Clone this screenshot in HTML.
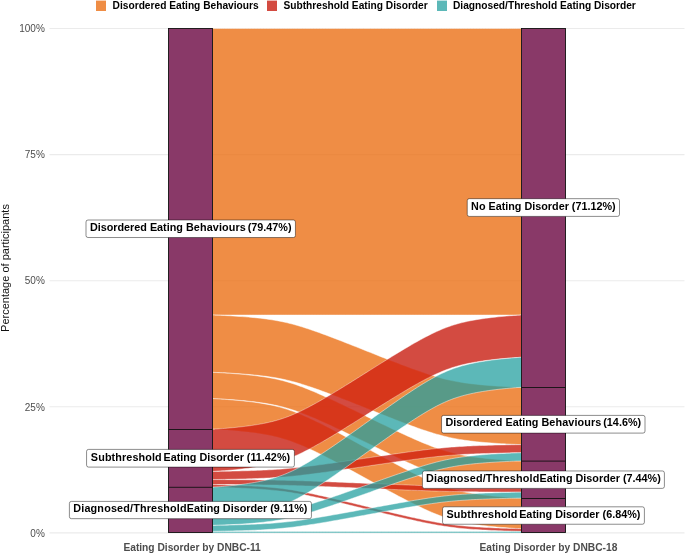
<!DOCTYPE html>
<html><head><meta charset="utf-8"><style>
html,body{margin:0;padding:0;background:#fff;}
body{width:685px;height:554px;position:relative;overflow:hidden;font-family:"Liberation Sans",sans-serif;}
#L{position:absolute;left:0;top:0;width:685px;height:554px;will-change:transform;}
.lab{position:absolute;transform:translate(-50%,-50%);border:0.9px solid transparent;border-radius:2.2px;font-weight:bold;font-size:10.8px;line-height:12px;padding:0.6px 3.1px 3.6px 3.1px;white-space:nowrap;color:#000;}
.tick{position:absolute;right:640.2px;font-size:10px;line-height:12px;color:#4D4D4D;text-align:right;}
.leg{position:absolute;top:1px;width:10.3px;height:9.85px;}
.legb{position:absolute;top:0;width:10.3px;height:1px;}
.legt{position:absolute;top:0.4px;font-size:10.2px;line-height:12px;font-weight:bold;color:#000;white-space:nowrap;}
.xl{position:absolute;top:542.2px;font-size:10.23px;line-height:12px;font-weight:bold;color:#4D4D4D;white-space:nowrap;transform:translateX(-50%);}
.yt{position:absolute;left:5.0px;top:267.7px;font-size:11px;line-height:12px;color:#111;white-space:nowrap;transform:translate(-50%,-50%) rotate(-90deg);}
</style></head><body>
<svg width="685" height="554" viewBox="0 0 685 554" style="position:absolute;left:0;top:0">
<defs><clipPath id="cO"><path d="M212.50,315.03 L212.51,315.03 L212.58,315.04 L212.76,315.04 L213.10,315.05 L213.64,315.07 L214.41,315.10 L215.44,315.14 L216.74,315.19 L218.31,315.25 L220.16,315.33 L222.27,315.43 L224.62,315.54 L227.19,315.68 L229.93,315.83 L232.83,316.00 L235.84,316.18 L238.93,316.39 L242.07,316.61 L245.23,316.85 L248.38,317.11 L251.51,317.38 L254.60,317.68 L257.64,317.99 L260.61,318.32 L263.52,318.66 L266.37,319.03 L269.14,319.42 L271.86,319.83 L274.52,320.26 L277.14,320.72 L279.71,321.20 L282.25,321.71 L284.77,322.26 L287.28,322.83 L289.79,323.44 L292.30,324.09 L294.84,324.78 L297.40,325.50 L299.99,326.27 L302.62,327.08 L305.30,327.92 L308.03,328.81 L310.81,329.74 L313.65,330.72 L316.55,331.73 L319.52,332.79 L322.56,333.89 L325.65,335.04 L328.82,336.22 L332.05,337.44 L335.34,338.70 L338.70,339.99 L342.10,341.31 L345.56,342.66 L349.06,344.04 L352.60,345.44 L356.17,346.85 L359.77,348.28 L363.38,349.72 L367.00,351.16 L370.62,352.60 L374.23,354.04 L377.83,355.47 L381.40,356.88 L384.94,358.28 L388.44,359.66 L391.90,361.01 L395.30,362.33 L398.66,363.62 L401.95,364.88 L405.18,366.10 L408.35,367.28 L411.44,368.43 L414.48,369.53 L417.45,370.58 L420.35,371.60 L423.19,372.57 L425.97,373.51 L428.70,374.39 L431.38,375.24 L434.01,376.05 L436.60,376.82 L439.16,377.54 L441.70,378.23 L444.21,378.88 L446.72,379.49 L449.23,380.06 L451.75,380.61 L454.29,381.12 L456.86,381.60 L459.48,382.06 L462.14,382.49 L464.86,382.90 L467.63,383.29 L470.48,383.66 L473.39,384.00 L476.36,384.33 L479.40,384.64 L482.49,384.93 L485.62,385.21 L488.77,385.47 L491.93,385.71 L495.07,385.93 L498.16,386.14 L501.17,386.32 L504.07,386.49 L506.81,386.64 L509.38,386.77 L511.73,386.89 L513.84,386.99 L515.69,387.07 L517.26,387.13 L518.56,387.18 L519.59,387.22 L520.36,387.25 L520.90,387.27 L521.24,387.28 L521.42,387.28 L521.49,387.28 L521.50,387.28 L521.50,444.61 L521.49,444.61 L521.42,444.61 L521.24,444.60 L520.90,444.59 L520.36,444.57 L519.59,444.55 L518.56,444.51 L517.26,444.46 L515.69,444.39 L513.84,444.31 L511.73,444.21 L509.38,444.10 L506.81,443.97 L504.07,443.82 L501.17,443.65 L498.16,443.46 L495.07,443.26 L491.93,443.03 L488.77,442.79 L485.62,442.54 L482.49,442.26 L479.40,441.97 L476.36,441.66 L473.39,441.33 L470.48,440.98 L467.63,440.62 L464.86,440.23 L462.14,439.82 L459.48,439.39 L456.86,438.93 L454.29,438.44 L451.75,437.93 L449.23,437.39 L446.72,436.81 L444.21,436.20 L441.70,435.55 L439.16,434.87 L436.60,434.14 L434.01,433.38 L431.38,432.57 L428.70,431.72 L425.97,430.83 L423.19,429.90 L420.35,428.93 L417.45,427.91 L414.48,426.85 L411.44,425.75 L408.35,424.61 L405.18,423.43 L401.95,422.21 L398.66,420.95 L395.30,419.66 L391.90,418.33 L388.44,416.98 L384.94,415.61 L381.40,414.21 L377.83,412.79 L374.23,411.36 L370.62,409.93 L367.00,408.48 L363.38,407.04 L359.77,405.60 L356.17,404.18 L352.60,402.76 L349.06,401.36 L345.56,399.99 L342.10,398.63 L338.70,397.31 L335.34,396.02 L332.05,394.76 L328.82,393.54 L325.65,392.36 L322.56,391.22 L319.52,390.12 L316.55,389.06 L313.65,388.04 L310.81,387.07 L308.03,386.14 L305.30,385.25 L302.62,384.40 L299.99,383.59 L297.40,382.83 L294.84,382.10 L292.30,381.42 L289.79,380.77 L287.28,380.16 L284.77,379.58 L282.25,379.04 L279.71,378.52 L277.14,378.04 L274.52,377.58 L271.86,377.15 L269.14,376.74 L266.37,376.35 L263.52,375.99 L260.61,375.64 L257.64,375.31 L254.60,375.00 L251.51,374.71 L248.38,374.43 L245.23,374.18 L242.07,373.94 L238.93,373.71 L235.84,373.51 L232.83,373.32 L229.93,373.15 L227.19,373.00 L224.62,372.87 L222.27,372.76 L220.16,372.66 L218.31,372.58 L216.74,372.51 L215.44,372.46 L214.41,372.42 L213.64,372.40 L213.10,372.38 L212.76,372.37 L212.58,372.36 L212.51,372.36 L212.50,372.36 Z"/><path d="M212.50,372.36 L212.51,372.36 L212.58,372.36 L212.76,372.37 L213.10,372.38 L213.64,372.40 L214.41,372.44 L215.44,372.48 L216.74,372.55 L218.31,372.63 L220.16,372.73 L222.27,372.84 L224.62,372.98 L227.19,373.15 L229.93,373.33 L232.83,373.54 L235.84,373.77 L238.93,374.02 L242.07,374.29 L245.23,374.59 L248.38,374.90 L251.51,375.24 L254.60,375.60 L257.64,375.98 L260.61,376.38 L263.52,376.81 L266.37,377.26 L269.14,377.73 L271.86,378.23 L274.52,378.76 L277.14,379.32 L279.71,379.92 L282.25,380.54 L284.77,381.21 L287.28,381.92 L289.79,382.67 L292.30,383.46 L294.84,384.30 L297.40,385.19 L299.99,386.13 L302.62,387.12 L305.30,388.16 L308.03,389.25 L310.81,390.39 L313.65,391.58 L316.55,392.83 L319.52,394.13 L322.56,395.48 L325.65,396.88 L328.82,398.33 L332.05,399.82 L335.34,401.36 L338.70,402.95 L342.10,404.57 L345.56,406.22 L349.06,407.91 L352.60,409.62 L356.17,411.36 L359.77,413.11 L363.38,414.87 L367.00,416.64 L370.62,418.41 L374.23,420.17 L377.83,421.92 L381.40,423.66 L384.94,425.37 L388.44,427.06 L391.90,428.72 L395.30,430.34 L398.66,431.92 L401.95,433.46 L405.18,434.96 L408.35,436.41 L411.44,437.80 L414.48,439.15 L417.45,440.45 L420.35,441.70 L423.19,442.89 L425.97,444.03 L428.70,445.12 L431.38,446.16 L434.01,447.15 L436.60,448.09 L439.16,448.98 L441.70,449.82 L444.21,450.62 L446.72,451.36 L449.23,452.07 L451.75,452.74 L454.29,453.37 L456.86,453.96 L459.48,454.52 L462.14,455.05 L464.86,455.55 L467.63,456.03 L470.48,456.48 L473.39,456.90 L476.36,457.30 L479.40,457.68 L482.49,458.04 L485.62,458.38 L488.77,458.69 L491.93,458.99 L495.07,459.26 L498.16,459.51 L501.17,459.74 L504.07,459.95 L506.81,460.13 L509.38,460.30 L511.73,460.44 L513.84,460.56 L515.69,460.66 L517.26,460.73 L518.56,460.80 L519.59,460.84 L520.36,460.88 L520.90,460.90 L521.24,460.91 L521.42,460.92 L521.49,460.92 L521.50,460.92 L521.50,487.20 L521.49,487.20 L521.42,487.19 L521.24,487.19 L520.90,487.17 L520.36,487.15 L519.59,487.12 L518.56,487.07 L517.26,487.01 L515.69,486.93 L513.84,486.83 L511.73,486.71 L509.38,486.57 L506.81,486.41 L504.07,486.22 L501.17,486.02 L498.16,485.79 L495.07,485.54 L491.93,485.26 L488.77,484.97 L485.62,484.65 L482.49,484.32 L479.40,483.96 L476.36,483.58 L473.39,483.18 L470.48,482.75 L467.63,482.30 L464.86,481.83 L462.14,481.32 L459.48,480.79 L456.86,480.23 L454.29,479.64 L451.75,479.01 L449.23,478.34 L446.72,477.64 L444.21,476.89 L441.70,476.10 L439.16,475.26 L436.60,474.37 L434.01,473.43 L431.38,472.44 L428.70,471.40 L425.97,470.31 L423.19,469.16 L420.35,467.97 L417.45,466.73 L414.48,465.43 L411.44,464.08 L408.35,462.68 L405.18,461.23 L401.95,459.73 L398.66,458.19 L395.30,456.61 L391.90,454.99 L388.44,453.33 L384.94,451.65 L381.40,449.93 L377.83,448.20 L374.23,446.45 L370.62,444.68 L367.00,442.92 L363.38,441.15 L359.77,439.38 L356.17,437.63 L352.60,435.90 L349.06,434.18 L345.56,432.50 L342.10,430.84 L338.70,429.22 L335.34,427.64 L332.05,426.10 L328.82,424.60 L325.65,423.15 L322.56,421.75 L319.52,420.40 L316.55,419.10 L313.65,417.86 L310.81,416.67 L308.03,415.52 L305.30,414.43 L302.62,413.39 L299.99,412.40 L297.40,411.46 L294.84,410.57 L292.30,409.73 L289.79,408.94 L287.28,408.19 L284.77,407.49 L282.25,406.82 L279.71,406.19 L277.14,405.60 L274.52,405.04 L271.86,404.51 L269.14,404.00 L266.37,403.53 L263.52,403.08 L260.61,402.65 L257.64,402.25 L254.60,401.87 L251.51,401.51 L248.38,401.18 L245.23,400.86 L242.07,400.57 L238.93,400.29 L235.84,400.04 L232.83,399.81 L229.93,399.61 L227.19,399.42 L224.62,399.26 L222.27,399.12 L220.16,399.00 L218.31,398.90 L216.74,398.82 L215.44,398.76 L214.41,398.71 L213.64,398.68 L213.10,398.66 L212.76,398.64 L212.58,398.64 L212.51,398.63 L212.50,398.63 Z"/><path d="M212.50,398.63 L212.51,398.63 L212.58,398.64 L212.76,398.64 L213.10,398.66 L213.64,398.68 L214.41,398.72 L215.44,398.77 L216.74,398.84 L218.31,398.93 L220.16,399.04 L222.27,399.18 L224.62,399.34 L227.19,399.52 L229.93,399.73 L232.83,399.96 L235.84,400.22 L238.93,400.50 L242.07,400.80 L245.23,401.14 L248.38,401.49 L251.51,401.87 L254.60,402.27 L257.64,402.70 L260.61,403.15 L263.52,403.63 L266.37,404.13 L269.14,404.67 L271.86,405.23 L274.52,405.83 L277.14,406.46 L279.71,407.12 L282.25,407.83 L284.77,408.58 L287.28,409.37 L289.79,410.21 L292.30,411.10 L294.84,412.05 L297.40,413.05 L299.99,414.10 L302.62,415.21 L305.30,416.38 L308.03,417.61 L310.81,418.89 L313.65,420.23 L316.55,421.63 L319.52,423.08 L322.56,424.60 L325.65,426.17 L328.82,427.80 L332.05,429.48 L335.34,431.21 L338.70,432.99 L342.10,434.81 L345.56,436.67 L349.06,438.57 L352.60,440.49 L356.17,442.44 L359.77,444.41 L363.38,446.39 L367.00,448.37 L370.62,450.36 L374.23,452.34 L377.83,454.31 L381.40,456.25 L384.94,458.18 L388.44,460.07 L391.90,461.93 L395.30,463.76 L398.66,465.53 L401.95,467.27 L405.18,468.95 L408.35,470.57 L411.44,472.15 L414.48,473.66 L417.45,475.12 L420.35,476.52 L423.19,477.86 L425.97,479.14 L428.70,480.36 L431.38,481.53 L434.01,482.64 L436.60,483.70 L439.16,484.70 L441.70,485.64 L444.21,486.53 L446.72,487.38 L449.23,488.17 L451.75,488.92 L454.29,489.62 L456.86,490.29 L459.48,490.92 L462.14,491.52 L464.86,492.08 L467.63,492.61 L470.48,493.12 L473.39,493.59 L476.36,494.05 L479.40,494.47 L482.49,494.88 L485.62,495.25 L488.77,495.61 L491.93,495.94 L495.07,496.25 L498.16,496.53 L501.17,496.79 L504.07,497.02 L506.81,497.23 L509.38,497.41 L511.73,497.57 L513.84,497.70 L515.69,497.81 L517.26,497.90 L518.56,497.97 L519.59,498.02 L520.36,498.06 L520.90,498.09 L521.24,498.10 L521.42,498.11 L521.49,498.11 L521.50,498.11 L521.50,528.71 L521.49,528.71 L521.42,528.71 L521.24,528.70 L520.90,528.69 L520.36,528.66 L519.59,528.63 L518.56,528.57 L517.26,528.50 L515.69,528.41 L513.84,528.30 L511.73,528.17 L509.38,528.01 L506.81,527.83 L504.07,527.62 L501.17,527.39 L498.16,527.13 L495.07,526.85 L491.93,526.54 L488.77,526.21 L485.62,525.86 L482.49,525.48 L479.40,525.08 L476.36,524.65 L473.39,524.20 L470.48,523.72 L467.63,523.21 L464.86,522.68 L462.14,522.12 L459.48,521.52 L456.86,520.89 L454.29,520.23 L451.75,519.52 L449.23,518.77 L446.72,517.98 L444.21,517.14 L441.70,516.25 L439.16,515.30 L436.60,514.30 L434.01,513.25 L431.38,512.13 L428.70,510.97 L425.97,509.74 L423.19,508.46 L420.35,507.12 L417.45,505.72 L414.48,504.26 L411.44,502.75 L408.35,501.17 L405.18,499.55 L401.95,497.87 L398.66,496.14 L395.30,494.36 L391.90,492.54 L388.44,490.68 L384.94,488.78 L381.40,486.86 L377.83,484.91 L374.23,482.94 L370.62,480.96 L367.00,478.97 L363.38,476.99 L359.77,475.01 L356.17,473.04 L352.60,471.09 L349.06,469.17 L345.56,467.27 L342.10,465.41 L338.70,463.59 L335.34,461.81 L332.05,460.08 L328.82,458.40 L325.65,456.77 L322.56,455.20 L319.52,453.69 L316.55,452.23 L313.65,450.83 L310.81,449.49 L308.03,448.21 L305.30,446.98 L302.62,445.82 L299.99,444.70 L297.40,443.65 L294.84,442.65 L292.30,441.70 L289.79,440.81 L287.28,439.97 L284.77,439.18 L282.25,438.43 L279.71,437.72 L277.14,437.06 L274.52,436.43 L271.86,435.83 L269.14,435.27 L266.37,434.74 L263.52,434.23 L260.61,433.75 L257.64,433.30 L254.60,432.87 L251.51,432.47 L248.38,432.09 L245.23,431.74 L242.07,431.41 L238.93,431.10 L235.84,430.82 L232.83,430.56 L229.93,430.33 L227.19,430.12 L224.62,429.94 L222.27,429.78 L220.16,429.65 L218.31,429.54 L216.74,429.45 L215.44,429.38 L214.41,429.32 L213.64,429.29 L213.10,429.26 L212.76,429.25 L212.58,429.24 L212.51,429.24 L212.50,429.24 Z"/></clipPath></defs>
<line x1="49.5" x2="684.5" y1="532.90" y2="532.90" stroke="#EBEBEB" stroke-width="1.07"/><line x1="49.5" x2="684.5" y1="406.80" y2="406.80" stroke="#EBEBEB" stroke-width="1.07"/><line x1="49.5" x2="684.5" y1="280.70" y2="280.70" stroke="#EBEBEB" stroke-width="1.07"/><line x1="49.5" x2="684.5" y1="154.60" y2="154.60" stroke="#EBEBEB" stroke-width="1.07"/><line x1="49.5" x2="684.5" y1="28.50" y2="28.50" stroke="#EBEBEB" stroke-width="1.07"/>
<path d="M212.50,28.50 L212.51,28.50 L212.58,28.50 L212.76,28.50 L213.10,28.50 L213.64,28.50 L214.41,28.50 L215.44,28.50 L216.74,28.50 L218.31,28.50 L220.16,28.50 L222.27,28.50 L224.62,28.50 L227.19,28.50 L229.93,28.50 L232.83,28.50 L235.84,28.50 L238.93,28.50 L242.07,28.50 L245.23,28.50 L248.38,28.50 L251.51,28.50 L254.60,28.50 L257.64,28.50 L260.61,28.50 L263.52,28.50 L266.37,28.50 L269.14,28.50 L271.86,28.50 L274.52,28.50 L277.14,28.50 L279.71,28.50 L282.25,28.50 L284.77,28.50 L287.28,28.50 L289.79,28.50 L292.30,28.50 L294.84,28.50 L297.40,28.50 L299.99,28.50 L302.62,28.50 L305.30,28.50 L308.03,28.50 L310.81,28.50 L313.65,28.50 L316.55,28.50 L319.52,28.50 L322.56,28.50 L325.65,28.50 L328.82,28.50 L332.05,28.50 L335.34,28.50 L338.70,28.50 L342.10,28.50 L345.56,28.50 L349.06,28.50 L352.60,28.50 L356.17,28.50 L359.77,28.50 L363.38,28.50 L367.00,28.50 L370.62,28.50 L374.23,28.50 L377.83,28.50 L381.40,28.50 L384.94,28.50 L388.44,28.50 L391.90,28.50 L395.30,28.50 L398.66,28.50 L401.95,28.50 L405.18,28.50 L408.35,28.50 L411.44,28.50 L414.48,28.50 L417.45,28.50 L420.35,28.50 L423.19,28.50 L425.97,28.50 L428.70,28.50 L431.38,28.50 L434.01,28.50 L436.60,28.50 L439.16,28.50 L441.70,28.50 L444.21,28.50 L446.72,28.50 L449.23,28.50 L451.75,28.50 L454.29,28.50 L456.86,28.50 L459.48,28.50 L462.14,28.50 L464.86,28.50 L467.63,28.50 L470.48,28.50 L473.39,28.50 L476.36,28.50 L479.40,28.50 L482.49,28.50 L485.62,28.50 L488.77,28.50 L491.93,28.50 L495.07,28.50 L498.16,28.50 L501.17,28.50 L504.07,28.50 L506.81,28.50 L509.38,28.50 L511.73,28.50 L513.84,28.50 L515.69,28.50 L517.26,28.50 L518.56,28.50 L519.59,28.50 L520.36,28.50 L520.90,28.50 L521.24,28.50 L521.42,28.50 L521.49,28.50 L521.50,28.50 L521.50,315.03 L521.49,315.03 L521.42,315.03 L521.24,315.03 L520.90,315.03 L520.36,315.03 L519.59,315.03 L518.56,315.03 L517.26,315.03 L515.69,315.03 L513.84,315.03 L511.73,315.03 L509.38,315.03 L506.81,315.03 L504.07,315.03 L501.17,315.03 L498.16,315.03 L495.07,315.03 L491.93,315.03 L488.77,315.03 L485.62,315.03 L482.49,315.03 L479.40,315.03 L476.36,315.03 L473.39,315.03 L470.48,315.03 L467.63,315.03 L464.86,315.03 L462.14,315.03 L459.48,315.03 L456.86,315.03 L454.29,315.03 L451.75,315.03 L449.23,315.03 L446.72,315.03 L444.21,315.03 L441.70,315.03 L439.16,315.03 L436.60,315.03 L434.01,315.03 L431.38,315.03 L428.70,315.03 L425.97,315.03 L423.19,315.03 L420.35,315.03 L417.45,315.03 L414.48,315.03 L411.44,315.03 L408.35,315.03 L405.18,315.03 L401.95,315.03 L398.66,315.03 L395.30,315.03 L391.90,315.03 L388.44,315.03 L384.94,315.03 L381.40,315.03 L377.83,315.03 L374.23,315.03 L370.62,315.03 L367.00,315.03 L363.38,315.03 L359.77,315.03 L356.17,315.03 L352.60,315.03 L349.06,315.03 L345.56,315.03 L342.10,315.03 L338.70,315.03 L335.34,315.03 L332.05,315.03 L328.82,315.03 L325.65,315.03 L322.56,315.03 L319.52,315.03 L316.55,315.03 L313.65,315.03 L310.81,315.03 L308.03,315.03 L305.30,315.03 L302.62,315.03 L299.99,315.03 L297.40,315.03 L294.84,315.03 L292.30,315.03 L289.79,315.03 L287.28,315.03 L284.77,315.03 L282.25,315.03 L279.71,315.03 L277.14,315.03 L274.52,315.03 L271.86,315.03 L269.14,315.03 L266.37,315.03 L263.52,315.03 L260.61,315.03 L257.64,315.03 L254.60,315.03 L251.51,315.03 L248.38,315.03 L245.23,315.03 L242.07,315.03 L238.93,315.03 L235.84,315.03 L232.83,315.03 L229.93,315.03 L227.19,315.03 L224.62,315.03 L222.27,315.03 L220.16,315.03 L218.31,315.03 L216.74,315.03 L215.44,315.03 L214.41,315.03 L213.64,315.03 L213.10,315.03 L212.76,315.03 L212.58,315.03 L212.51,315.03 L212.50,315.03 Z" fill="#EB7016" fill-opacity="0.8" stroke="#fff" stroke-width="0.45"/><path d="M212.50,315.03 L212.51,315.03 L212.58,315.04 L212.76,315.04 L213.10,315.05 L213.64,315.07 L214.41,315.10 L215.44,315.14 L216.74,315.19 L218.31,315.25 L220.16,315.33 L222.27,315.43 L224.62,315.54 L227.19,315.68 L229.93,315.83 L232.83,316.00 L235.84,316.18 L238.93,316.39 L242.07,316.61 L245.23,316.85 L248.38,317.11 L251.51,317.38 L254.60,317.68 L257.64,317.99 L260.61,318.32 L263.52,318.66 L266.37,319.03 L269.14,319.42 L271.86,319.83 L274.52,320.26 L277.14,320.72 L279.71,321.20 L282.25,321.71 L284.77,322.26 L287.28,322.83 L289.79,323.44 L292.30,324.09 L294.84,324.78 L297.40,325.50 L299.99,326.27 L302.62,327.08 L305.30,327.92 L308.03,328.81 L310.81,329.74 L313.65,330.72 L316.55,331.73 L319.52,332.79 L322.56,333.89 L325.65,335.04 L328.82,336.22 L332.05,337.44 L335.34,338.70 L338.70,339.99 L342.10,341.31 L345.56,342.66 L349.06,344.04 L352.60,345.44 L356.17,346.85 L359.77,348.28 L363.38,349.72 L367.00,351.16 L370.62,352.60 L374.23,354.04 L377.83,355.47 L381.40,356.88 L384.94,358.28 L388.44,359.66 L391.90,361.01 L395.30,362.33 L398.66,363.62 L401.95,364.88 L405.18,366.10 L408.35,367.28 L411.44,368.43 L414.48,369.53 L417.45,370.58 L420.35,371.60 L423.19,372.57 L425.97,373.51 L428.70,374.39 L431.38,375.24 L434.01,376.05 L436.60,376.82 L439.16,377.54 L441.70,378.23 L444.21,378.88 L446.72,379.49 L449.23,380.06 L451.75,380.61 L454.29,381.12 L456.86,381.60 L459.48,382.06 L462.14,382.49 L464.86,382.90 L467.63,383.29 L470.48,383.66 L473.39,384.00 L476.36,384.33 L479.40,384.64 L482.49,384.93 L485.62,385.21 L488.77,385.47 L491.93,385.71 L495.07,385.93 L498.16,386.14 L501.17,386.32 L504.07,386.49 L506.81,386.64 L509.38,386.77 L511.73,386.89 L513.84,386.99 L515.69,387.07 L517.26,387.13 L518.56,387.18 L519.59,387.22 L520.36,387.25 L520.90,387.27 L521.24,387.28 L521.42,387.28 L521.49,387.28 L521.50,387.28 L521.50,444.61 L521.49,444.61 L521.42,444.61 L521.24,444.60 L520.90,444.59 L520.36,444.57 L519.59,444.55 L518.56,444.51 L517.26,444.46 L515.69,444.39 L513.84,444.31 L511.73,444.21 L509.38,444.10 L506.81,443.97 L504.07,443.82 L501.17,443.65 L498.16,443.46 L495.07,443.26 L491.93,443.03 L488.77,442.79 L485.62,442.54 L482.49,442.26 L479.40,441.97 L476.36,441.66 L473.39,441.33 L470.48,440.98 L467.63,440.62 L464.86,440.23 L462.14,439.82 L459.48,439.39 L456.86,438.93 L454.29,438.44 L451.75,437.93 L449.23,437.39 L446.72,436.81 L444.21,436.20 L441.70,435.55 L439.16,434.87 L436.60,434.14 L434.01,433.38 L431.38,432.57 L428.70,431.72 L425.97,430.83 L423.19,429.90 L420.35,428.93 L417.45,427.91 L414.48,426.85 L411.44,425.75 L408.35,424.61 L405.18,423.43 L401.95,422.21 L398.66,420.95 L395.30,419.66 L391.90,418.33 L388.44,416.98 L384.94,415.61 L381.40,414.21 L377.83,412.79 L374.23,411.36 L370.62,409.93 L367.00,408.48 L363.38,407.04 L359.77,405.60 L356.17,404.18 L352.60,402.76 L349.06,401.36 L345.56,399.99 L342.10,398.63 L338.70,397.31 L335.34,396.02 L332.05,394.76 L328.82,393.54 L325.65,392.36 L322.56,391.22 L319.52,390.12 L316.55,389.06 L313.65,388.04 L310.81,387.07 L308.03,386.14 L305.30,385.25 L302.62,384.40 L299.99,383.59 L297.40,382.83 L294.84,382.10 L292.30,381.42 L289.79,380.77 L287.28,380.16 L284.77,379.58 L282.25,379.04 L279.71,378.52 L277.14,378.04 L274.52,377.58 L271.86,377.15 L269.14,376.74 L266.37,376.35 L263.52,375.99 L260.61,375.64 L257.64,375.31 L254.60,375.00 L251.51,374.71 L248.38,374.43 L245.23,374.18 L242.07,373.94 L238.93,373.71 L235.84,373.51 L232.83,373.32 L229.93,373.15 L227.19,373.00 L224.62,372.87 L222.27,372.76 L220.16,372.66 L218.31,372.58 L216.74,372.51 L215.44,372.46 L214.41,372.42 L213.64,372.40 L213.10,372.38 L212.76,372.37 L212.58,372.36 L212.51,372.36 L212.50,372.36 Z" fill="#EB7016" fill-opacity="0.8" stroke="#fff" stroke-width="0.45"/><path d="M212.50,372.36 L212.51,372.36 L212.58,372.36 L212.76,372.37 L213.10,372.38 L213.64,372.40 L214.41,372.44 L215.44,372.48 L216.74,372.55 L218.31,372.63 L220.16,372.73 L222.27,372.84 L224.62,372.98 L227.19,373.15 L229.93,373.33 L232.83,373.54 L235.84,373.77 L238.93,374.02 L242.07,374.29 L245.23,374.59 L248.38,374.90 L251.51,375.24 L254.60,375.60 L257.64,375.98 L260.61,376.38 L263.52,376.81 L266.37,377.26 L269.14,377.73 L271.86,378.23 L274.52,378.76 L277.14,379.32 L279.71,379.92 L282.25,380.54 L284.77,381.21 L287.28,381.92 L289.79,382.67 L292.30,383.46 L294.84,384.30 L297.40,385.19 L299.99,386.13 L302.62,387.12 L305.30,388.16 L308.03,389.25 L310.81,390.39 L313.65,391.58 L316.55,392.83 L319.52,394.13 L322.56,395.48 L325.65,396.88 L328.82,398.33 L332.05,399.82 L335.34,401.36 L338.70,402.95 L342.10,404.57 L345.56,406.22 L349.06,407.91 L352.60,409.62 L356.17,411.36 L359.77,413.11 L363.38,414.87 L367.00,416.64 L370.62,418.41 L374.23,420.17 L377.83,421.92 L381.40,423.66 L384.94,425.37 L388.44,427.06 L391.90,428.72 L395.30,430.34 L398.66,431.92 L401.95,433.46 L405.18,434.96 L408.35,436.41 L411.44,437.80 L414.48,439.15 L417.45,440.45 L420.35,441.70 L423.19,442.89 L425.97,444.03 L428.70,445.12 L431.38,446.16 L434.01,447.15 L436.60,448.09 L439.16,448.98 L441.70,449.82 L444.21,450.62 L446.72,451.36 L449.23,452.07 L451.75,452.74 L454.29,453.37 L456.86,453.96 L459.48,454.52 L462.14,455.05 L464.86,455.55 L467.63,456.03 L470.48,456.48 L473.39,456.90 L476.36,457.30 L479.40,457.68 L482.49,458.04 L485.62,458.38 L488.77,458.69 L491.93,458.99 L495.07,459.26 L498.16,459.51 L501.17,459.74 L504.07,459.95 L506.81,460.13 L509.38,460.30 L511.73,460.44 L513.84,460.56 L515.69,460.66 L517.26,460.73 L518.56,460.80 L519.59,460.84 L520.36,460.88 L520.90,460.90 L521.24,460.91 L521.42,460.92 L521.49,460.92 L521.50,460.92 L521.50,487.20 L521.49,487.20 L521.42,487.19 L521.24,487.19 L520.90,487.17 L520.36,487.15 L519.59,487.12 L518.56,487.07 L517.26,487.01 L515.69,486.93 L513.84,486.83 L511.73,486.71 L509.38,486.57 L506.81,486.41 L504.07,486.22 L501.17,486.02 L498.16,485.79 L495.07,485.54 L491.93,485.26 L488.77,484.97 L485.62,484.65 L482.49,484.32 L479.40,483.96 L476.36,483.58 L473.39,483.18 L470.48,482.75 L467.63,482.30 L464.86,481.83 L462.14,481.32 L459.48,480.79 L456.86,480.23 L454.29,479.64 L451.75,479.01 L449.23,478.34 L446.72,477.64 L444.21,476.89 L441.70,476.10 L439.16,475.26 L436.60,474.37 L434.01,473.43 L431.38,472.44 L428.70,471.40 L425.97,470.31 L423.19,469.16 L420.35,467.97 L417.45,466.73 L414.48,465.43 L411.44,464.08 L408.35,462.68 L405.18,461.23 L401.95,459.73 L398.66,458.19 L395.30,456.61 L391.90,454.99 L388.44,453.33 L384.94,451.65 L381.40,449.93 L377.83,448.20 L374.23,446.45 L370.62,444.68 L367.00,442.92 L363.38,441.15 L359.77,439.38 L356.17,437.63 L352.60,435.90 L349.06,434.18 L345.56,432.50 L342.10,430.84 L338.70,429.22 L335.34,427.64 L332.05,426.10 L328.82,424.60 L325.65,423.15 L322.56,421.75 L319.52,420.40 L316.55,419.10 L313.65,417.86 L310.81,416.67 L308.03,415.52 L305.30,414.43 L302.62,413.39 L299.99,412.40 L297.40,411.46 L294.84,410.57 L292.30,409.73 L289.79,408.94 L287.28,408.19 L284.77,407.49 L282.25,406.82 L279.71,406.19 L277.14,405.60 L274.52,405.04 L271.86,404.51 L269.14,404.00 L266.37,403.53 L263.52,403.08 L260.61,402.65 L257.64,402.25 L254.60,401.87 L251.51,401.51 L248.38,401.18 L245.23,400.86 L242.07,400.57 L238.93,400.29 L235.84,400.04 L232.83,399.81 L229.93,399.61 L227.19,399.42 L224.62,399.26 L222.27,399.12 L220.16,399.00 L218.31,398.90 L216.74,398.82 L215.44,398.76 L214.41,398.71 L213.64,398.68 L213.10,398.66 L212.76,398.64 L212.58,398.64 L212.51,398.63 L212.50,398.63 Z" fill="#EB7016" fill-opacity="0.8" stroke="#fff" stroke-width="0.45"/><path d="M212.50,398.63 L212.51,398.63 L212.58,398.64 L212.76,398.64 L213.10,398.66 L213.64,398.68 L214.41,398.72 L215.44,398.77 L216.74,398.84 L218.31,398.93 L220.16,399.04 L222.27,399.18 L224.62,399.34 L227.19,399.52 L229.93,399.73 L232.83,399.96 L235.84,400.22 L238.93,400.50 L242.07,400.80 L245.23,401.14 L248.38,401.49 L251.51,401.87 L254.60,402.27 L257.64,402.70 L260.61,403.15 L263.52,403.63 L266.37,404.13 L269.14,404.67 L271.86,405.23 L274.52,405.83 L277.14,406.46 L279.71,407.12 L282.25,407.83 L284.77,408.58 L287.28,409.37 L289.79,410.21 L292.30,411.10 L294.84,412.05 L297.40,413.05 L299.99,414.10 L302.62,415.21 L305.30,416.38 L308.03,417.61 L310.81,418.89 L313.65,420.23 L316.55,421.63 L319.52,423.08 L322.56,424.60 L325.65,426.17 L328.82,427.80 L332.05,429.48 L335.34,431.21 L338.70,432.99 L342.10,434.81 L345.56,436.67 L349.06,438.57 L352.60,440.49 L356.17,442.44 L359.77,444.41 L363.38,446.39 L367.00,448.37 L370.62,450.36 L374.23,452.34 L377.83,454.31 L381.40,456.25 L384.94,458.18 L388.44,460.07 L391.90,461.93 L395.30,463.76 L398.66,465.53 L401.95,467.27 L405.18,468.95 L408.35,470.57 L411.44,472.15 L414.48,473.66 L417.45,475.12 L420.35,476.52 L423.19,477.86 L425.97,479.14 L428.70,480.36 L431.38,481.53 L434.01,482.64 L436.60,483.70 L439.16,484.70 L441.70,485.64 L444.21,486.53 L446.72,487.38 L449.23,488.17 L451.75,488.92 L454.29,489.62 L456.86,490.29 L459.48,490.92 L462.14,491.52 L464.86,492.08 L467.63,492.61 L470.48,493.12 L473.39,493.59 L476.36,494.05 L479.40,494.47 L482.49,494.88 L485.62,495.25 L488.77,495.61 L491.93,495.94 L495.07,496.25 L498.16,496.53 L501.17,496.79 L504.07,497.02 L506.81,497.23 L509.38,497.41 L511.73,497.57 L513.84,497.70 L515.69,497.81 L517.26,497.90 L518.56,497.97 L519.59,498.02 L520.36,498.06 L520.90,498.09 L521.24,498.10 L521.42,498.11 L521.49,498.11 L521.50,498.11 L521.50,528.71 L521.49,528.71 L521.42,528.71 L521.24,528.70 L520.90,528.69 L520.36,528.66 L519.59,528.63 L518.56,528.57 L517.26,528.50 L515.69,528.41 L513.84,528.30 L511.73,528.17 L509.38,528.01 L506.81,527.83 L504.07,527.62 L501.17,527.39 L498.16,527.13 L495.07,526.85 L491.93,526.54 L488.77,526.21 L485.62,525.86 L482.49,525.48 L479.40,525.08 L476.36,524.65 L473.39,524.20 L470.48,523.72 L467.63,523.21 L464.86,522.68 L462.14,522.12 L459.48,521.52 L456.86,520.89 L454.29,520.23 L451.75,519.52 L449.23,518.77 L446.72,517.98 L444.21,517.14 L441.70,516.25 L439.16,515.30 L436.60,514.30 L434.01,513.25 L431.38,512.13 L428.70,510.97 L425.97,509.74 L423.19,508.46 L420.35,507.12 L417.45,505.72 L414.48,504.26 L411.44,502.75 L408.35,501.17 L405.18,499.55 L401.95,497.87 L398.66,496.14 L395.30,494.36 L391.90,492.54 L388.44,490.68 L384.94,488.78 L381.40,486.86 L377.83,484.91 L374.23,482.94 L370.62,480.96 L367.00,478.97 L363.38,476.99 L359.77,475.01 L356.17,473.04 L352.60,471.09 L349.06,469.17 L345.56,467.27 L342.10,465.41 L338.70,463.59 L335.34,461.81 L332.05,460.08 L328.82,458.40 L325.65,456.77 L322.56,455.20 L319.52,453.69 L316.55,452.23 L313.65,450.83 L310.81,449.49 L308.03,448.21 L305.30,446.98 L302.62,445.82 L299.99,444.70 L297.40,443.65 L294.84,442.65 L292.30,441.70 L289.79,440.81 L287.28,439.97 L284.77,439.18 L282.25,438.43 L279.71,437.72 L277.14,437.06 L274.52,436.43 L271.86,435.83 L269.14,435.27 L266.37,434.74 L263.52,434.23 L260.61,433.75 L257.64,433.30 L254.60,432.87 L251.51,432.47 L248.38,432.09 L245.23,431.74 L242.07,431.41 L238.93,431.10 L235.84,430.82 L232.83,430.56 L229.93,430.33 L227.19,430.12 L224.62,429.94 L222.27,429.78 L220.16,429.65 L218.31,429.54 L216.74,429.45 L215.44,429.38 L214.41,429.32 L213.64,429.29 L213.10,429.26 L212.76,429.25 L212.58,429.24 L212.51,429.24 L212.50,429.24 Z" fill="#EB7016" fill-opacity="0.8" stroke="#fff" stroke-width="0.45"/><path d="M212.50,429.24 L212.51,429.24 L212.58,429.23 L212.76,429.22 L213.10,429.21 L213.64,429.18 L214.41,429.13 L215.44,429.07 L216.74,428.99 L218.31,428.89 L220.16,428.76 L222.27,428.61 L224.62,428.43 L227.19,428.22 L229.93,427.98 L232.83,427.72 L235.84,427.42 L238.93,427.10 L242.07,426.74 L245.23,426.36 L248.38,425.96 L251.51,425.52 L254.60,425.06 L257.64,424.57 L260.61,424.05 L263.52,423.50 L266.37,422.92 L269.14,422.31 L271.86,421.66 L274.52,420.98 L277.14,420.26 L279.71,419.49 L282.25,418.68 L284.77,417.82 L287.28,416.91 L289.79,415.95 L292.30,414.92 L294.84,413.84 L297.40,412.69 L299.99,411.48 L302.62,410.20 L305.30,408.86 L308.03,407.46 L310.81,405.98 L313.65,404.45 L316.55,402.84 L319.52,401.17 L322.56,399.43 L325.65,397.62 L328.82,395.75 L332.05,393.82 L335.34,391.84 L338.70,389.80 L342.10,387.70 L345.56,385.57 L349.06,383.39 L352.60,381.18 L356.17,378.95 L359.77,376.69 L363.38,374.41 L367.00,372.14 L370.62,369.86 L374.23,367.58 L377.83,365.32 L381.40,363.09 L384.94,360.88 L388.44,358.70 L391.90,356.57 L395.30,354.47 L398.66,352.43 L401.95,350.45 L405.18,348.52 L408.35,346.65 L411.44,344.84 L414.48,343.10 L417.45,341.43 L420.35,339.82 L423.19,338.29 L425.97,336.81 L428.70,335.41 L431.38,334.07 L434.01,332.79 L436.60,331.58 L439.16,330.43 L441.70,329.35 L444.21,328.32 L446.72,327.36 L449.23,326.45 L451.75,325.59 L454.29,324.78 L456.86,324.01 L459.48,323.29 L462.14,322.61 L464.86,321.96 L467.63,321.35 L470.48,320.77 L473.39,320.22 L476.36,319.70 L479.40,319.21 L482.49,318.75 L485.62,318.31 L488.77,317.91 L491.93,317.53 L495.07,317.17 L498.16,316.85 L501.17,316.55 L504.07,316.29 L506.81,316.05 L509.38,315.84 L511.73,315.66 L513.84,315.51 L515.69,315.38 L517.26,315.28 L518.56,315.20 L519.59,315.14 L520.36,315.09 L520.90,315.06 L521.24,315.05 L521.42,315.04 L521.49,315.03 L521.50,315.03 L521.50,357.26 L521.49,357.26 L521.42,357.26 L521.24,357.27 L520.90,357.29 L520.36,357.32 L519.59,357.36 L518.56,357.42 L517.26,357.50 L515.69,357.60 L513.84,357.73 L511.73,357.88 L509.38,358.06 L506.81,358.27 L504.07,358.51 L501.17,358.78 L498.16,359.07 L495.07,359.40 L491.93,359.75 L488.77,360.13 L485.62,360.54 L482.49,360.97 L479.40,361.43 L476.36,361.92 L473.39,362.44 L470.48,362.99 L467.63,363.57 L464.86,364.18 L462.14,364.83 L459.48,365.51 L456.86,366.24 L454.29,367.00 L451.75,367.81 L449.23,368.67 L446.72,369.58 L444.21,370.55 L441.70,371.57 L439.16,372.66 L436.60,373.80 L434.01,375.01 L431.38,376.29 L428.70,377.63 L425.97,379.04 L423.19,380.51 L420.35,382.05 L417.45,383.65 L414.48,385.33 L411.44,387.07 L408.35,388.87 L405.18,390.74 L401.95,392.67 L398.66,394.66 L395.30,396.70 L391.90,398.79 L388.44,400.92 L384.94,403.10 L381.40,405.31 L377.83,407.55 L374.23,409.81 L370.62,412.08 L367.00,414.36 L363.38,416.64 L359.77,418.91 L356.17,421.17 L352.60,423.41 L349.06,425.62 L345.56,427.79 L342.10,429.93 L338.70,432.02 L335.34,434.06 L332.05,436.05 L328.82,437.98 L325.65,439.84 L322.56,441.65 L319.52,443.39 L316.55,445.06 L313.65,446.67 L310.81,448.21 L308.03,449.68 L305.30,451.08 L302.62,452.43 L299.99,453.70 L297.40,454.91 L294.84,456.06 L292.30,457.15 L289.79,458.17 L287.28,459.13 L284.77,460.05 L282.25,460.90 L279.71,461.71 L277.14,462.48 L274.52,463.20 L271.86,463.89 L269.14,464.53 L266.37,465.15 L263.52,465.73 L260.61,466.27 L257.64,466.79 L254.60,467.28 L251.51,467.74 L248.38,468.18 L245.23,468.59 L242.07,468.97 L238.93,469.32 L235.84,469.64 L232.83,469.94 L229.93,470.21 L227.19,470.44 L224.62,470.65 L222.27,470.83 L220.16,470.99 L218.31,471.11 L216.74,471.22 L215.44,471.30 L214.41,471.36 L213.64,471.40 L213.10,471.43 L212.76,471.45 L212.58,471.46 L212.51,471.46 L212.50,471.46 Z" fill="#C81E12" fill-opacity="0.8" stroke="#fff" stroke-width="0.45"/><path d="M212.50,471.46 L212.51,471.46 L212.58,471.46 L212.76,471.46 L213.10,471.45 L213.64,471.45 L214.41,471.44 L215.44,471.42 L216.74,471.40 L218.31,471.38 L220.16,471.35 L222.27,471.31 L224.62,471.27 L227.19,471.22 L229.93,471.16 L232.83,471.10 L235.84,471.03 L238.93,470.96 L242.07,470.87 L245.23,470.78 L248.38,470.69 L251.51,470.59 L254.60,470.48 L257.64,470.36 L260.61,470.24 L263.52,470.11 L266.37,469.97 L269.14,469.83 L271.86,469.68 L274.52,469.52 L277.14,469.35 L279.71,469.17 L282.25,468.98 L284.77,468.78 L287.28,468.56 L289.79,468.33 L292.30,468.09 L294.84,467.84 L297.40,467.57 L299.99,467.28 L302.62,466.98 L305.30,466.67 L308.03,466.34 L310.81,465.99 L313.65,465.63 L316.55,465.25 L319.52,464.86 L322.56,464.45 L325.65,464.03 L328.82,463.59 L332.05,463.13 L335.34,462.67 L338.70,462.19 L342.10,461.69 L345.56,461.19 L349.06,460.68 L352.60,460.16 L356.17,459.64 L359.77,459.10 L363.38,458.57 L367.00,458.03 L370.62,457.50 L374.23,456.96 L377.83,456.43 L381.40,455.91 L384.94,455.39 L388.44,454.88 L391.90,454.37 L395.30,453.88 L398.66,453.40 L401.95,452.94 L405.18,452.48 L408.35,452.04 L411.44,451.62 L414.48,451.21 L417.45,450.82 L420.35,450.44 L423.19,450.08 L425.97,449.73 L428.70,449.40 L431.38,449.08 L434.01,448.78 L436.60,448.50 L439.16,448.23 L441.70,447.97 L444.21,447.73 L446.72,447.51 L449.23,447.29 L451.75,447.09 L454.29,446.90 L456.86,446.72 L459.48,446.55 L462.14,446.39 L464.86,446.24 L467.63,446.09 L470.48,445.96 L473.39,445.83 L476.36,445.71 L479.40,445.59 L482.49,445.48 L485.62,445.38 L488.77,445.29 L491.93,445.20 L495.07,445.11 L498.16,445.04 L501.17,444.97 L504.07,444.90 L506.81,444.85 L509.38,444.80 L511.73,444.76 L513.84,444.72 L515.69,444.69 L517.26,444.67 L518.56,444.65 L519.59,444.63 L520.36,444.62 L520.90,444.62 L521.24,444.61 L521.42,444.61 L521.49,444.61 L521.50,444.61 L521.50,452.72 L521.49,452.72 L521.42,452.72 L521.24,452.72 L520.90,452.72 L520.36,452.73 L519.59,452.74 L518.56,452.75 L517.26,452.77 L515.69,452.80 L513.84,452.83 L511.73,452.86 L509.38,452.91 L506.81,452.95 L504.07,453.01 L501.17,453.07 L498.16,453.14 L495.07,453.22 L491.93,453.30 L488.77,453.39 L485.62,453.49 L482.49,453.59 L479.40,453.70 L476.36,453.81 L473.39,453.93 L470.48,454.06 L467.63,454.20 L464.86,454.34 L462.14,454.50 L459.48,454.66 L456.86,454.83 L454.29,455.01 L451.75,455.20 L449.23,455.40 L446.72,455.61 L444.21,455.84 L441.70,456.08 L439.16,456.34 L436.60,456.61 L434.01,456.89 L431.38,457.19 L428.70,457.51 L425.97,457.84 L423.19,458.18 L420.35,458.54 L417.45,458.92 L414.48,459.31 L411.44,459.72 L408.35,460.15 L405.18,460.59 L401.95,461.04 L398.66,461.51 L395.30,461.99 L391.90,462.48 L388.44,462.98 L384.94,463.49 L381.40,464.01 L377.83,464.54 L374.23,465.07 L370.62,465.60 L367.00,466.14 L363.38,466.68 L359.77,467.21 L356.17,467.74 L352.60,468.27 L349.06,468.79 L345.56,469.30 L342.10,469.80 L338.70,470.29 L335.34,470.77 L332.05,471.24 L328.82,471.69 L325.65,472.13 L322.56,472.56 L319.52,472.97 L316.55,473.36 L313.65,473.74 L310.81,474.10 L308.03,474.44 L305.30,474.77 L302.62,475.09 L299.99,475.39 L297.40,475.67 L294.84,475.94 L292.30,476.20 L289.79,476.44 L287.28,476.67 L284.77,476.88 L282.25,477.08 L279.71,477.27 L277.14,477.45 L274.52,477.62 L271.86,477.78 L269.14,477.94 L266.37,478.08 L263.52,478.22 L260.61,478.35 L257.64,478.47 L254.60,478.58 L251.51,478.69 L248.38,478.79 L245.23,478.89 L242.07,478.98 L238.93,479.06 L235.84,479.14 L232.83,479.21 L229.93,479.27 L227.19,479.33 L224.62,479.38 L222.27,479.42 L220.16,479.45 L218.31,479.48 L216.74,479.51 L215.44,479.53 L214.41,479.54 L213.64,479.55 L213.10,479.56 L212.76,479.56 L212.58,479.56 L212.51,479.56 L212.50,479.56 Z" fill="#C81E12" fill-opacity="0.8" stroke="#fff" stroke-width="0.45"/><path d="M212.50,479.56 L212.51,479.56 L212.58,479.56 L212.76,479.57 L213.10,479.57 L213.64,479.57 L214.41,479.57 L215.44,479.58 L216.74,479.58 L218.31,479.59 L220.16,479.60 L222.27,479.61 L224.62,479.62 L227.19,479.63 L229.93,479.65 L232.83,479.67 L235.84,479.69 L238.93,479.71 L242.07,479.73 L245.23,479.76 L248.38,479.78 L251.51,479.81 L254.60,479.84 L257.64,479.88 L260.61,479.91 L263.52,479.95 L266.37,479.99 L269.14,480.03 L271.86,480.07 L274.52,480.12 L277.14,480.16 L279.71,480.22 L282.25,480.27 L284.77,480.33 L287.28,480.39 L289.79,480.45 L292.30,480.52 L294.84,480.59 L297.40,480.67 L299.99,480.75 L302.62,480.84 L305.30,480.93 L308.03,481.02 L310.81,481.12 L313.65,481.22 L316.55,481.33 L319.52,481.44 L322.56,481.56 L325.65,481.68 L328.82,481.80 L332.05,481.93 L335.34,482.06 L338.70,482.20 L342.10,482.34 L345.56,482.48 L349.06,482.63 L352.60,482.78 L356.17,482.93 L359.77,483.08 L363.38,483.23 L367.00,483.38 L370.62,483.53 L374.23,483.68 L377.83,483.84 L381.40,483.99 L384.94,484.13 L388.44,484.28 L391.90,484.42 L395.30,484.56 L398.66,484.70 L401.95,484.83 L405.18,484.96 L408.35,485.08 L411.44,485.20 L414.48,485.32 L417.45,485.43 L420.35,485.54 L423.19,485.64 L425.97,485.74 L428.70,485.83 L431.38,485.92 L434.01,486.01 L436.60,486.09 L439.16,486.17 L441.70,486.24 L444.21,486.31 L446.72,486.37 L449.23,486.43 L451.75,486.49 L454.29,486.55 L456.86,486.60 L459.48,486.64 L462.14,486.69 L464.86,486.73 L467.63,486.77 L470.48,486.81 L473.39,486.85 L476.36,486.88 L479.40,486.92 L482.49,486.95 L485.62,486.98 L488.77,487.00 L491.93,487.03 L495.07,487.05 L498.16,487.07 L501.17,487.09 L504.07,487.11 L506.81,487.13 L509.38,487.14 L511.73,487.15 L513.84,487.16 L515.69,487.17 L517.26,487.18 L518.56,487.19 L519.59,487.19 L520.36,487.19 L520.90,487.19 L521.24,487.20 L521.42,487.20 L521.49,487.20 L521.50,487.20 L521.50,492.15 L521.49,492.15 L521.42,492.15 L521.24,492.15 L520.90,492.15 L520.36,492.15 L519.59,492.15 L518.56,492.14 L517.26,492.14 L515.69,492.13 L513.84,492.12 L511.73,492.11 L509.38,492.10 L506.81,492.09 L504.07,492.07 L501.17,492.05 L498.16,492.03 L495.07,492.01 L491.93,491.99 L488.77,491.96 L485.62,491.94 L482.49,491.91 L479.40,491.88 L476.36,491.84 L473.39,491.81 L470.48,491.77 L467.63,491.73 L464.86,491.69 L462.14,491.65 L459.48,491.60 L456.86,491.55 L454.29,491.50 L451.75,491.45 L449.23,491.39 L446.72,491.33 L444.21,491.27 L441.70,491.20 L439.16,491.13 L436.60,491.05 L434.01,490.97 L431.38,490.88 L428.70,490.79 L425.97,490.70 L423.19,490.60 L420.35,490.50 L417.45,490.39 L414.48,490.28 L411.44,490.16 L408.35,490.04 L405.18,489.92 L401.95,489.79 L398.66,489.66 L395.30,489.52 L391.90,489.38 L388.44,489.24 L384.94,489.09 L381.40,488.94 L377.83,488.79 L374.23,488.64 L370.62,488.49 L367.00,488.34 L363.38,488.19 L359.77,488.03 L356.17,487.88 L352.60,487.73 L349.06,487.59 L345.56,487.44 L342.10,487.30 L338.70,487.16 L335.34,487.02 L332.05,486.89 L328.82,486.76 L325.65,486.64 L322.56,486.52 L319.52,486.40 L316.55,486.29 L313.65,486.18 L310.81,486.08 L308.03,485.98 L305.30,485.88 L302.62,485.79 L299.99,485.71 L297.40,485.63 L294.84,485.55 L292.30,485.48 L289.79,485.41 L287.28,485.35 L284.77,485.29 L282.25,485.23 L279.71,485.17 L277.14,485.12 L274.52,485.07 L271.86,485.03 L269.14,484.99 L266.37,484.94 L263.52,484.91 L260.61,484.87 L257.64,484.83 L254.60,484.80 L251.51,484.77 L248.38,484.74 L245.23,484.71 L242.07,484.69 L238.93,484.67 L235.84,484.64 L232.83,484.62 L229.93,484.61 L227.19,484.59 L224.62,484.58 L222.27,484.56 L220.16,484.55 L218.31,484.55 L216.74,484.54 L215.44,484.53 L214.41,484.53 L213.64,484.53 L213.10,484.52 L212.76,484.52 L212.58,484.52 L212.51,484.52 L212.50,484.52 Z" fill="#C81E12" fill-opacity="0.8" stroke="#fff" stroke-width="0.45"/><path d="M212.50,484.52 L212.51,484.52 L212.58,484.52 L212.76,484.53 L213.10,484.53 L213.64,484.55 L214.41,484.56 L215.44,484.59 L216.74,484.62 L218.31,484.66 L220.16,484.71 L222.27,484.76 L224.62,484.83 L227.19,484.92 L229.93,485.01 L232.83,485.11 L235.84,485.23 L238.93,485.35 L242.07,485.49 L245.23,485.63 L248.38,485.79 L251.51,485.96 L254.60,486.14 L257.64,486.33 L260.61,486.53 L263.52,486.74 L266.37,486.97 L269.14,487.20 L271.86,487.45 L274.52,487.72 L277.14,488.00 L279.71,488.29 L282.25,488.61 L284.77,488.94 L287.28,489.29 L289.79,489.67 L292.30,490.06 L294.84,490.48 L297.40,490.93 L299.99,491.39 L302.62,491.89 L305.30,492.41 L308.03,492.95 L310.81,493.52 L313.65,494.12 L316.55,494.74 L319.52,495.38 L322.56,496.06 L325.65,496.76 L328.82,497.48 L332.05,498.23 L335.34,498.99 L338.70,499.78 L342.10,500.59 L345.56,501.42 L349.06,502.26 L352.60,503.12 L356.17,503.98 L359.77,504.86 L363.38,505.74 L367.00,506.62 L370.62,507.50 L374.23,508.38 L377.83,509.25 L381.40,510.12 L384.94,510.97 L388.44,511.82 L391.90,512.64 L395.30,513.45 L398.66,514.24 L401.95,515.01 L405.18,515.76 L408.35,516.48 L411.44,517.18 L414.48,517.85 L417.45,518.50 L420.35,519.12 L423.19,519.72 L425.97,520.29 L428.70,520.83 L431.38,521.35 L434.01,521.84 L436.60,522.31 L439.16,522.76 L441.70,523.17 L444.21,523.57 L446.72,523.94 L449.23,524.30 L451.75,524.63 L454.29,524.94 L456.86,525.24 L459.48,525.52 L462.14,525.78 L464.86,526.03 L467.63,526.27 L470.48,526.49 L473.39,526.71 L476.36,526.91 L479.40,527.10 L482.49,527.28 L485.62,527.44 L488.77,527.60 L491.93,527.75 L495.07,527.89 L498.16,528.01 L501.17,528.13 L504.07,528.23 L506.81,528.32 L509.38,528.40 L511.73,528.47 L513.84,528.53 L515.69,528.58 L517.26,528.62 L518.56,528.65 L519.59,528.67 L520.36,528.69 L520.90,528.70 L521.24,528.71 L521.42,528.71 L521.49,528.71 L521.50,528.71 L521.50,531.39 L521.49,531.39 L521.42,531.39 L521.24,531.38 L520.90,531.38 L520.36,531.36 L519.59,531.35 L518.56,531.32 L517.26,531.29 L515.69,531.25 L513.84,531.20 L511.73,531.14 L509.38,531.07 L506.81,530.99 L504.07,530.90 L501.17,530.80 L498.16,530.68 L495.07,530.56 L491.93,530.42 L488.77,530.28 L485.62,530.12 L482.49,529.95 L479.40,529.77 L476.36,529.58 L473.39,529.38 L470.48,529.17 L467.63,528.94 L464.86,528.71 L462.14,528.46 L459.48,528.19 L456.86,527.91 L454.29,527.62 L451.75,527.30 L449.23,526.97 L446.72,526.62 L444.21,526.24 L441.70,525.85 L439.16,525.43 L436.60,524.98 L434.01,524.52 L431.38,524.02 L428.70,523.50 L425.97,522.96 L423.19,522.39 L420.35,521.79 L417.45,521.17 L414.48,520.53 L411.44,519.85 L408.35,519.15 L405.18,518.43 L401.95,517.68 L398.66,516.92 L395.30,516.13 L391.90,515.32 L388.44,514.49 L384.94,513.65 L381.40,512.79 L377.83,511.93 L374.23,511.05 L370.62,510.17 L367.00,509.29 L363.38,508.41 L359.77,507.53 L356.17,506.66 L352.60,505.79 L349.06,504.94 L345.56,504.09 L342.10,503.27 L338.70,502.46 L335.34,501.67 L332.05,500.90 L328.82,500.15 L325.65,499.43 L322.56,498.73 L319.52,498.06 L316.55,497.41 L313.65,496.79 L310.81,496.19 L308.03,495.62 L305.30,495.08 L302.62,494.56 L299.99,494.07 L297.40,493.60 L294.84,493.15 L292.30,492.73 L289.79,492.34 L287.28,491.97 L284.77,491.61 L282.25,491.28 L279.71,490.97 L277.14,490.67 L274.52,490.39 L271.86,490.13 L269.14,489.88 L266.37,489.64 L263.52,489.42 L260.61,489.20 L257.64,489.00 L254.60,488.81 L251.51,488.63 L248.38,488.47 L245.23,488.31 L242.07,488.16 L238.93,488.02 L235.84,487.90 L232.83,487.78 L229.93,487.68 L227.19,487.59 L224.62,487.51 L222.27,487.44 L220.16,487.38 L218.31,487.33 L216.74,487.29 L215.44,487.26 L214.41,487.24 L213.64,487.22 L213.10,487.21 L212.76,487.20 L212.58,487.20 L212.51,487.20 L212.50,487.20 Z" fill="#C81E12" fill-opacity="0.8" stroke="#fff" stroke-width="0.45"/><g clip-path="url(#cO)"><path d="M212.50,429.24 L212.51,429.24 L212.58,429.23 L212.76,429.22 L213.10,429.21 L213.64,429.18 L214.41,429.13 L215.44,429.07 L216.74,428.99 L218.31,428.89 L220.16,428.76 L222.27,428.61 L224.62,428.43 L227.19,428.22 L229.93,427.98 L232.83,427.72 L235.84,427.42 L238.93,427.10 L242.07,426.74 L245.23,426.36 L248.38,425.96 L251.51,425.52 L254.60,425.06 L257.64,424.57 L260.61,424.05 L263.52,423.50 L266.37,422.92 L269.14,422.31 L271.86,421.66 L274.52,420.98 L277.14,420.26 L279.71,419.49 L282.25,418.68 L284.77,417.82 L287.28,416.91 L289.79,415.95 L292.30,414.92 L294.84,413.84 L297.40,412.69 L299.99,411.48 L302.62,410.20 L305.30,408.86 L308.03,407.46 L310.81,405.98 L313.65,404.45 L316.55,402.84 L319.52,401.17 L322.56,399.43 L325.65,397.62 L328.82,395.75 L332.05,393.82 L335.34,391.84 L338.70,389.80 L342.10,387.70 L345.56,385.57 L349.06,383.39 L352.60,381.18 L356.17,378.95 L359.77,376.69 L363.38,374.41 L367.00,372.14 L370.62,369.86 L374.23,367.58 L377.83,365.32 L381.40,363.09 L384.94,360.88 L388.44,358.70 L391.90,356.57 L395.30,354.47 L398.66,352.43 L401.95,350.45 L405.18,348.52 L408.35,346.65 L411.44,344.84 L414.48,343.10 L417.45,341.43 L420.35,339.82 L423.19,338.29 L425.97,336.81 L428.70,335.41 L431.38,334.07 L434.01,332.79 L436.60,331.58 L439.16,330.43 L441.70,329.35 L444.21,328.32 L446.72,327.36 L449.23,326.45 L451.75,325.59 L454.29,324.78 L456.86,324.01 L459.48,323.29 L462.14,322.61 L464.86,321.96 L467.63,321.35 L470.48,320.77 L473.39,320.22 L476.36,319.70 L479.40,319.21 L482.49,318.75 L485.62,318.31 L488.77,317.91 L491.93,317.53 L495.07,317.17 L498.16,316.85 L501.17,316.55 L504.07,316.29 L506.81,316.05 L509.38,315.84 L511.73,315.66 L513.84,315.51 L515.69,315.38 L517.26,315.28 L518.56,315.20 L519.59,315.14 L520.36,315.09 L520.90,315.06 L521.24,315.05 L521.42,315.04 L521.49,315.03 L521.50,315.03 L521.50,357.26 L521.49,357.26 L521.42,357.26 L521.24,357.27 L520.90,357.29 L520.36,357.32 L519.59,357.36 L518.56,357.42 L517.26,357.50 L515.69,357.60 L513.84,357.73 L511.73,357.88 L509.38,358.06 L506.81,358.27 L504.07,358.51 L501.17,358.78 L498.16,359.07 L495.07,359.40 L491.93,359.75 L488.77,360.13 L485.62,360.54 L482.49,360.97 L479.40,361.43 L476.36,361.92 L473.39,362.44 L470.48,362.99 L467.63,363.57 L464.86,364.18 L462.14,364.83 L459.48,365.51 L456.86,366.24 L454.29,367.00 L451.75,367.81 L449.23,368.67 L446.72,369.58 L444.21,370.55 L441.70,371.57 L439.16,372.66 L436.60,373.80 L434.01,375.01 L431.38,376.29 L428.70,377.63 L425.97,379.04 L423.19,380.51 L420.35,382.05 L417.45,383.65 L414.48,385.33 L411.44,387.07 L408.35,388.87 L405.18,390.74 L401.95,392.67 L398.66,394.66 L395.30,396.70 L391.90,398.79 L388.44,400.92 L384.94,403.10 L381.40,405.31 L377.83,407.55 L374.23,409.81 L370.62,412.08 L367.00,414.36 L363.38,416.64 L359.77,418.91 L356.17,421.17 L352.60,423.41 L349.06,425.62 L345.56,427.79 L342.10,429.93 L338.70,432.02 L335.34,434.06 L332.05,436.05 L328.82,437.98 L325.65,439.84 L322.56,441.65 L319.52,443.39 L316.55,445.06 L313.65,446.67 L310.81,448.21 L308.03,449.68 L305.30,451.08 L302.62,452.43 L299.99,453.70 L297.40,454.91 L294.84,456.06 L292.30,457.15 L289.79,458.17 L287.28,459.13 L284.77,460.05 L282.25,460.90 L279.71,461.71 L277.14,462.48 L274.52,463.20 L271.86,463.89 L269.14,464.53 L266.37,465.15 L263.52,465.73 L260.61,466.27 L257.64,466.79 L254.60,467.28 L251.51,467.74 L248.38,468.18 L245.23,468.59 L242.07,468.97 L238.93,469.32 L235.84,469.64 L232.83,469.94 L229.93,470.21 L227.19,470.44 L224.62,470.65 L222.27,470.83 L220.16,470.99 L218.31,471.11 L216.74,471.22 L215.44,471.30 L214.41,471.36 L213.64,471.40 L213.10,471.43 L212.76,471.45 L212.58,471.46 L212.51,471.46 L212.50,471.46 Z" fill="#E83E1A" fill-opacity="0.3"/><path d="M212.50,471.46 L212.51,471.46 L212.58,471.46 L212.76,471.46 L213.10,471.45 L213.64,471.45 L214.41,471.44 L215.44,471.42 L216.74,471.40 L218.31,471.38 L220.16,471.35 L222.27,471.31 L224.62,471.27 L227.19,471.22 L229.93,471.16 L232.83,471.10 L235.84,471.03 L238.93,470.96 L242.07,470.87 L245.23,470.78 L248.38,470.69 L251.51,470.59 L254.60,470.48 L257.64,470.36 L260.61,470.24 L263.52,470.11 L266.37,469.97 L269.14,469.83 L271.86,469.68 L274.52,469.52 L277.14,469.35 L279.71,469.17 L282.25,468.98 L284.77,468.78 L287.28,468.56 L289.79,468.33 L292.30,468.09 L294.84,467.84 L297.40,467.57 L299.99,467.28 L302.62,466.98 L305.30,466.67 L308.03,466.34 L310.81,465.99 L313.65,465.63 L316.55,465.25 L319.52,464.86 L322.56,464.45 L325.65,464.03 L328.82,463.59 L332.05,463.13 L335.34,462.67 L338.70,462.19 L342.10,461.69 L345.56,461.19 L349.06,460.68 L352.60,460.16 L356.17,459.64 L359.77,459.10 L363.38,458.57 L367.00,458.03 L370.62,457.50 L374.23,456.96 L377.83,456.43 L381.40,455.91 L384.94,455.39 L388.44,454.88 L391.90,454.37 L395.30,453.88 L398.66,453.40 L401.95,452.94 L405.18,452.48 L408.35,452.04 L411.44,451.62 L414.48,451.21 L417.45,450.82 L420.35,450.44 L423.19,450.08 L425.97,449.73 L428.70,449.40 L431.38,449.08 L434.01,448.78 L436.60,448.50 L439.16,448.23 L441.70,447.97 L444.21,447.73 L446.72,447.51 L449.23,447.29 L451.75,447.09 L454.29,446.90 L456.86,446.72 L459.48,446.55 L462.14,446.39 L464.86,446.24 L467.63,446.09 L470.48,445.96 L473.39,445.83 L476.36,445.71 L479.40,445.59 L482.49,445.48 L485.62,445.38 L488.77,445.29 L491.93,445.20 L495.07,445.11 L498.16,445.04 L501.17,444.97 L504.07,444.90 L506.81,444.85 L509.38,444.80 L511.73,444.76 L513.84,444.72 L515.69,444.69 L517.26,444.67 L518.56,444.65 L519.59,444.63 L520.36,444.62 L520.90,444.62 L521.24,444.61 L521.42,444.61 L521.49,444.61 L521.50,444.61 L521.50,452.72 L521.49,452.72 L521.42,452.72 L521.24,452.72 L520.90,452.72 L520.36,452.73 L519.59,452.74 L518.56,452.75 L517.26,452.77 L515.69,452.80 L513.84,452.83 L511.73,452.86 L509.38,452.91 L506.81,452.95 L504.07,453.01 L501.17,453.07 L498.16,453.14 L495.07,453.22 L491.93,453.30 L488.77,453.39 L485.62,453.49 L482.49,453.59 L479.40,453.70 L476.36,453.81 L473.39,453.93 L470.48,454.06 L467.63,454.20 L464.86,454.34 L462.14,454.50 L459.48,454.66 L456.86,454.83 L454.29,455.01 L451.75,455.20 L449.23,455.40 L446.72,455.61 L444.21,455.84 L441.70,456.08 L439.16,456.34 L436.60,456.61 L434.01,456.89 L431.38,457.19 L428.70,457.51 L425.97,457.84 L423.19,458.18 L420.35,458.54 L417.45,458.92 L414.48,459.31 L411.44,459.72 L408.35,460.15 L405.18,460.59 L401.95,461.04 L398.66,461.51 L395.30,461.99 L391.90,462.48 L388.44,462.98 L384.94,463.49 L381.40,464.01 L377.83,464.54 L374.23,465.07 L370.62,465.60 L367.00,466.14 L363.38,466.68 L359.77,467.21 L356.17,467.74 L352.60,468.27 L349.06,468.79 L345.56,469.30 L342.10,469.80 L338.70,470.29 L335.34,470.77 L332.05,471.24 L328.82,471.69 L325.65,472.13 L322.56,472.56 L319.52,472.97 L316.55,473.36 L313.65,473.74 L310.81,474.10 L308.03,474.44 L305.30,474.77 L302.62,475.09 L299.99,475.39 L297.40,475.67 L294.84,475.94 L292.30,476.20 L289.79,476.44 L287.28,476.67 L284.77,476.88 L282.25,477.08 L279.71,477.27 L277.14,477.45 L274.52,477.62 L271.86,477.78 L269.14,477.94 L266.37,478.08 L263.52,478.22 L260.61,478.35 L257.64,478.47 L254.60,478.58 L251.51,478.69 L248.38,478.79 L245.23,478.89 L242.07,478.98 L238.93,479.06 L235.84,479.14 L232.83,479.21 L229.93,479.27 L227.19,479.33 L224.62,479.38 L222.27,479.42 L220.16,479.45 L218.31,479.48 L216.74,479.51 L215.44,479.53 L214.41,479.54 L213.64,479.55 L213.10,479.56 L212.76,479.56 L212.58,479.56 L212.51,479.56 L212.50,479.56 Z" fill="#E83E1A" fill-opacity="0.3"/><path d="M212.50,479.56 L212.51,479.56 L212.58,479.56 L212.76,479.57 L213.10,479.57 L213.64,479.57 L214.41,479.57 L215.44,479.58 L216.74,479.58 L218.31,479.59 L220.16,479.60 L222.27,479.61 L224.62,479.62 L227.19,479.63 L229.93,479.65 L232.83,479.67 L235.84,479.69 L238.93,479.71 L242.07,479.73 L245.23,479.76 L248.38,479.78 L251.51,479.81 L254.60,479.84 L257.64,479.88 L260.61,479.91 L263.52,479.95 L266.37,479.99 L269.14,480.03 L271.86,480.07 L274.52,480.12 L277.14,480.16 L279.71,480.22 L282.25,480.27 L284.77,480.33 L287.28,480.39 L289.79,480.45 L292.30,480.52 L294.84,480.59 L297.40,480.67 L299.99,480.75 L302.62,480.84 L305.30,480.93 L308.03,481.02 L310.81,481.12 L313.65,481.22 L316.55,481.33 L319.52,481.44 L322.56,481.56 L325.65,481.68 L328.82,481.80 L332.05,481.93 L335.34,482.06 L338.70,482.20 L342.10,482.34 L345.56,482.48 L349.06,482.63 L352.60,482.78 L356.17,482.93 L359.77,483.08 L363.38,483.23 L367.00,483.38 L370.62,483.53 L374.23,483.68 L377.83,483.84 L381.40,483.99 L384.94,484.13 L388.44,484.28 L391.90,484.42 L395.30,484.56 L398.66,484.70 L401.95,484.83 L405.18,484.96 L408.35,485.08 L411.44,485.20 L414.48,485.32 L417.45,485.43 L420.35,485.54 L423.19,485.64 L425.97,485.74 L428.70,485.83 L431.38,485.92 L434.01,486.01 L436.60,486.09 L439.16,486.17 L441.70,486.24 L444.21,486.31 L446.72,486.37 L449.23,486.43 L451.75,486.49 L454.29,486.55 L456.86,486.60 L459.48,486.64 L462.14,486.69 L464.86,486.73 L467.63,486.77 L470.48,486.81 L473.39,486.85 L476.36,486.88 L479.40,486.92 L482.49,486.95 L485.62,486.98 L488.77,487.00 L491.93,487.03 L495.07,487.05 L498.16,487.07 L501.17,487.09 L504.07,487.11 L506.81,487.13 L509.38,487.14 L511.73,487.15 L513.84,487.16 L515.69,487.17 L517.26,487.18 L518.56,487.19 L519.59,487.19 L520.36,487.19 L520.90,487.19 L521.24,487.20 L521.42,487.20 L521.49,487.20 L521.50,487.20 L521.50,492.15 L521.49,492.15 L521.42,492.15 L521.24,492.15 L520.90,492.15 L520.36,492.15 L519.59,492.15 L518.56,492.14 L517.26,492.14 L515.69,492.13 L513.84,492.12 L511.73,492.11 L509.38,492.10 L506.81,492.09 L504.07,492.07 L501.17,492.05 L498.16,492.03 L495.07,492.01 L491.93,491.99 L488.77,491.96 L485.62,491.94 L482.49,491.91 L479.40,491.88 L476.36,491.84 L473.39,491.81 L470.48,491.77 L467.63,491.73 L464.86,491.69 L462.14,491.65 L459.48,491.60 L456.86,491.55 L454.29,491.50 L451.75,491.45 L449.23,491.39 L446.72,491.33 L444.21,491.27 L441.70,491.20 L439.16,491.13 L436.60,491.05 L434.01,490.97 L431.38,490.88 L428.70,490.79 L425.97,490.70 L423.19,490.60 L420.35,490.50 L417.45,490.39 L414.48,490.28 L411.44,490.16 L408.35,490.04 L405.18,489.92 L401.95,489.79 L398.66,489.66 L395.30,489.52 L391.90,489.38 L388.44,489.24 L384.94,489.09 L381.40,488.94 L377.83,488.79 L374.23,488.64 L370.62,488.49 L367.00,488.34 L363.38,488.19 L359.77,488.03 L356.17,487.88 L352.60,487.73 L349.06,487.59 L345.56,487.44 L342.10,487.30 L338.70,487.16 L335.34,487.02 L332.05,486.89 L328.82,486.76 L325.65,486.64 L322.56,486.52 L319.52,486.40 L316.55,486.29 L313.65,486.18 L310.81,486.08 L308.03,485.98 L305.30,485.88 L302.62,485.79 L299.99,485.71 L297.40,485.63 L294.84,485.55 L292.30,485.48 L289.79,485.41 L287.28,485.35 L284.77,485.29 L282.25,485.23 L279.71,485.17 L277.14,485.12 L274.52,485.07 L271.86,485.03 L269.14,484.99 L266.37,484.94 L263.52,484.91 L260.61,484.87 L257.64,484.83 L254.60,484.80 L251.51,484.77 L248.38,484.74 L245.23,484.71 L242.07,484.69 L238.93,484.67 L235.84,484.64 L232.83,484.62 L229.93,484.61 L227.19,484.59 L224.62,484.58 L222.27,484.56 L220.16,484.55 L218.31,484.55 L216.74,484.54 L215.44,484.53 L214.41,484.53 L213.64,484.53 L213.10,484.52 L212.76,484.52 L212.58,484.52 L212.51,484.52 L212.50,484.52 Z" fill="#E83E1A" fill-opacity="0.3"/><path d="M212.50,484.52 L212.51,484.52 L212.58,484.52 L212.76,484.53 L213.10,484.53 L213.64,484.55 L214.41,484.56 L215.44,484.59 L216.74,484.62 L218.31,484.66 L220.16,484.71 L222.27,484.76 L224.62,484.83 L227.19,484.92 L229.93,485.01 L232.83,485.11 L235.84,485.23 L238.93,485.35 L242.07,485.49 L245.23,485.63 L248.38,485.79 L251.51,485.96 L254.60,486.14 L257.64,486.33 L260.61,486.53 L263.52,486.74 L266.37,486.97 L269.14,487.20 L271.86,487.45 L274.52,487.72 L277.14,488.00 L279.71,488.29 L282.25,488.61 L284.77,488.94 L287.28,489.29 L289.79,489.67 L292.30,490.06 L294.84,490.48 L297.40,490.93 L299.99,491.39 L302.62,491.89 L305.30,492.41 L308.03,492.95 L310.81,493.52 L313.65,494.12 L316.55,494.74 L319.52,495.38 L322.56,496.06 L325.65,496.76 L328.82,497.48 L332.05,498.23 L335.34,498.99 L338.70,499.78 L342.10,500.59 L345.56,501.42 L349.06,502.26 L352.60,503.12 L356.17,503.98 L359.77,504.86 L363.38,505.74 L367.00,506.62 L370.62,507.50 L374.23,508.38 L377.83,509.25 L381.40,510.12 L384.94,510.97 L388.44,511.82 L391.90,512.64 L395.30,513.45 L398.66,514.24 L401.95,515.01 L405.18,515.76 L408.35,516.48 L411.44,517.18 L414.48,517.85 L417.45,518.50 L420.35,519.12 L423.19,519.72 L425.97,520.29 L428.70,520.83 L431.38,521.35 L434.01,521.84 L436.60,522.31 L439.16,522.76 L441.70,523.17 L444.21,523.57 L446.72,523.94 L449.23,524.30 L451.75,524.63 L454.29,524.94 L456.86,525.24 L459.48,525.52 L462.14,525.78 L464.86,526.03 L467.63,526.27 L470.48,526.49 L473.39,526.71 L476.36,526.91 L479.40,527.10 L482.49,527.28 L485.62,527.44 L488.77,527.60 L491.93,527.75 L495.07,527.89 L498.16,528.01 L501.17,528.13 L504.07,528.23 L506.81,528.32 L509.38,528.40 L511.73,528.47 L513.84,528.53 L515.69,528.58 L517.26,528.62 L518.56,528.65 L519.59,528.67 L520.36,528.69 L520.90,528.70 L521.24,528.71 L521.42,528.71 L521.49,528.71 L521.50,528.71 L521.50,531.39 L521.49,531.39 L521.42,531.39 L521.24,531.38 L520.90,531.38 L520.36,531.36 L519.59,531.35 L518.56,531.32 L517.26,531.29 L515.69,531.25 L513.84,531.20 L511.73,531.14 L509.38,531.07 L506.81,530.99 L504.07,530.90 L501.17,530.80 L498.16,530.68 L495.07,530.56 L491.93,530.42 L488.77,530.28 L485.62,530.12 L482.49,529.95 L479.40,529.77 L476.36,529.58 L473.39,529.38 L470.48,529.17 L467.63,528.94 L464.86,528.71 L462.14,528.46 L459.48,528.19 L456.86,527.91 L454.29,527.62 L451.75,527.30 L449.23,526.97 L446.72,526.62 L444.21,526.24 L441.70,525.85 L439.16,525.43 L436.60,524.98 L434.01,524.52 L431.38,524.02 L428.70,523.50 L425.97,522.96 L423.19,522.39 L420.35,521.79 L417.45,521.17 L414.48,520.53 L411.44,519.85 L408.35,519.15 L405.18,518.43 L401.95,517.68 L398.66,516.92 L395.30,516.13 L391.90,515.32 L388.44,514.49 L384.94,513.65 L381.40,512.79 L377.83,511.93 L374.23,511.05 L370.62,510.17 L367.00,509.29 L363.38,508.41 L359.77,507.53 L356.17,506.66 L352.60,505.79 L349.06,504.94 L345.56,504.09 L342.10,503.27 L338.70,502.46 L335.34,501.67 L332.05,500.90 L328.82,500.15 L325.65,499.43 L322.56,498.73 L319.52,498.06 L316.55,497.41 L313.65,496.79 L310.81,496.19 L308.03,495.62 L305.30,495.08 L302.62,494.56 L299.99,494.07 L297.40,493.60 L294.84,493.15 L292.30,492.73 L289.79,492.34 L287.28,491.97 L284.77,491.61 L282.25,491.28 L279.71,490.97 L277.14,490.67 L274.52,490.39 L271.86,490.13 L269.14,489.88 L266.37,489.64 L263.52,489.42 L260.61,489.20 L257.64,489.00 L254.60,488.81 L251.51,488.63 L248.38,488.47 L245.23,488.31 L242.07,488.16 L238.93,488.02 L235.84,487.90 L232.83,487.78 L229.93,487.68 L227.19,487.59 L224.62,487.51 L222.27,487.44 L220.16,487.38 L218.31,487.33 L216.74,487.29 L215.44,487.26 L214.41,487.24 L213.64,487.22 L213.10,487.21 L212.76,487.20 L212.58,487.20 L212.51,487.20 L212.50,487.20 Z" fill="#E83E1A" fill-opacity="0.3"/></g><path d="M212.50,487.20 L212.51,487.20 L212.58,487.19 L212.76,487.18 L213.10,487.16 L213.64,487.13 L214.41,487.08 L215.44,487.01 L216.74,486.92 L218.31,486.80 L220.16,486.66 L222.27,486.49 L224.62,486.28 L227.19,486.04 L229.93,485.77 L232.83,485.47 L235.84,485.13 L238.93,484.76 L242.07,484.36 L245.23,483.93 L248.38,483.46 L251.51,482.97 L254.60,482.44 L257.64,481.89 L260.61,481.30 L263.52,480.67 L266.37,480.01 L269.14,479.32 L271.86,478.58 L274.52,477.80 L277.14,476.98 L279.71,476.11 L282.25,475.19 L284.77,474.21 L287.28,473.17 L289.79,472.07 L292.30,470.91 L294.84,469.68 L297.40,468.37 L299.99,466.99 L302.62,465.54 L305.30,464.01 L308.03,462.42 L310.81,460.74 L313.65,458.99 L316.55,457.16 L319.52,455.26 L322.56,453.28 L325.65,451.23 L328.82,449.10 L332.05,446.90 L335.34,444.64 L338.70,442.32 L342.10,439.94 L345.56,437.51 L349.06,435.04 L352.60,432.52 L356.17,429.98 L359.77,427.41 L363.38,424.82 L367.00,422.23 L370.62,419.63 L374.23,417.05 L377.83,414.48 L381.40,411.93 L384.94,409.42 L388.44,406.94 L391.90,404.51 L395.30,402.13 L398.66,399.81 L401.95,397.55 L405.18,395.35 L408.35,393.23 L411.44,391.18 L414.48,389.20 L417.45,387.29 L420.35,385.46 L423.19,383.71 L425.97,382.04 L428.70,380.44 L431.38,378.91 L434.01,377.46 L436.60,376.08 L439.16,374.78 L441.70,373.54 L444.21,372.38 L446.72,371.28 L449.23,370.24 L451.75,369.27 L454.29,368.35 L456.86,367.47 L459.48,366.65 L462.14,365.87 L464.86,365.14 L467.63,364.44 L470.48,363.78 L473.39,363.16 L476.36,362.57 L479.40,362.01 L482.49,361.48 L485.62,360.99 L488.77,360.53 L491.93,360.09 L495.07,359.69 L498.16,359.32 L501.17,358.99 L504.07,358.68 L506.81,358.41 L509.38,358.17 L511.73,357.97 L513.84,357.79 L515.69,357.65 L517.26,357.53 L518.56,357.44 L519.59,357.37 L520.36,357.32 L520.90,357.29 L521.24,357.27 L521.42,357.26 L521.49,357.26 L521.50,357.26 L521.50,387.28 L521.49,387.29 L521.42,387.29 L521.24,387.30 L520.90,387.32 L520.36,387.35 L519.59,387.40 L518.56,387.47 L517.26,387.56 L515.69,387.68 L513.84,387.82 L511.73,388.00 L509.38,388.20 L506.81,388.44 L504.07,388.71 L501.17,389.01 L498.16,389.35 L495.07,389.72 L491.93,390.12 L488.77,390.55 L485.62,391.02 L482.49,391.51 L479.40,392.04 L476.36,392.59 L473.39,393.18 L470.48,393.81 L467.63,394.47 L464.86,395.16 L462.14,395.90 L459.48,396.68 L456.86,397.50 L454.29,398.37 L451.75,399.29 L449.23,400.27 L446.72,401.31 L444.21,402.41 L441.70,403.57 L439.16,404.80 L436.60,406.11 L434.01,407.49 L431.38,408.94 L428.70,410.47 L425.97,412.07 L423.19,413.74 L420.35,415.49 L417.45,417.32 L414.48,419.22 L411.44,421.20 L408.35,423.26 L405.18,425.38 L401.95,427.58 L398.66,429.84 L395.30,432.16 L391.90,434.54 L388.44,436.97 L384.94,439.44 L381.40,441.96 L377.83,444.50 L374.23,447.07 L370.62,449.66 L367.00,452.25 L363.38,454.85 L359.77,457.43 L356.17,460.00 L352.60,462.55 L349.06,465.06 L345.56,467.54 L342.10,469.97 L338.70,472.35 L335.34,474.67 L332.05,476.93 L328.82,479.13 L325.65,481.25 L322.56,483.31 L319.52,485.29 L316.55,487.19 L313.65,489.02 L310.81,490.77 L308.03,492.44 L305.30,494.04 L302.62,495.57 L299.99,497.02 L297.40,498.40 L294.84,499.70 L292.30,500.94 L289.79,502.10 L287.28,503.20 L284.77,504.24 L282.25,505.21 L279.71,506.14 L277.14,507.01 L274.52,507.83 L271.86,508.61 L269.14,509.34 L266.37,510.04 L263.52,510.70 L260.61,511.32 L257.64,511.91 L254.60,512.47 L251.51,513.00 L248.38,513.49 L245.23,513.96 L242.07,514.39 L238.93,514.79 L235.84,515.16 L232.83,515.49 L229.93,515.80 L227.19,516.07 L224.62,516.31 L222.27,516.51 L220.16,516.69 L218.31,516.83 L216.74,516.95 L215.44,517.04 L214.41,517.11 L213.64,517.16 L213.10,517.19 L212.76,517.21 L212.58,517.22 L212.51,517.22 L212.50,517.22 Z" fill="#239F9F" fill-opacity="0.74" stroke="#fff" stroke-width="0.45"/><path d="M212.50,517.22 L212.51,517.22 L212.58,517.22 L212.76,517.22 L213.10,517.21 L213.64,517.19 L214.41,517.17 L215.44,517.13 L216.74,517.09 L218.31,517.03 L220.16,516.96 L222.27,516.87 L224.62,516.77 L227.19,516.65 L229.93,516.52 L232.83,516.36 L235.84,516.20 L238.93,516.01 L242.07,515.82 L245.23,515.60 L248.38,515.37 L251.51,515.13 L254.60,514.86 L257.64,514.59 L260.61,514.29 L263.52,513.98 L266.37,513.66 L269.14,513.31 L271.86,512.95 L274.52,512.56 L277.14,512.15 L279.71,511.72 L282.25,511.26 L284.77,510.78 L287.28,510.26 L289.79,509.72 L292.30,509.14 L294.84,508.53 L297.40,507.88 L299.99,507.19 L302.62,506.47 L305.30,505.71 L308.03,504.92 L310.81,504.09 L313.65,503.22 L316.55,502.31 L319.52,501.37 L322.56,500.39 L325.65,499.37 L328.82,498.31 L332.05,497.22 L335.34,496.10 L338.70,494.95 L342.10,493.76 L345.56,492.56 L349.06,491.33 L352.60,490.08 L356.17,488.82 L359.77,487.54 L363.38,486.26 L367.00,484.97 L370.62,483.68 L374.23,482.40 L377.83,481.12 L381.40,479.86 L384.94,478.61 L388.44,477.38 L391.90,476.17 L395.30,474.99 L398.66,473.84 L401.95,472.72 L405.18,471.63 L408.35,470.57 L411.44,469.55 L414.48,468.57 L417.45,467.63 L420.35,466.72 L423.19,465.85 L425.97,465.02 L428.70,464.22 L431.38,463.47 L434.01,462.75 L436.60,462.06 L439.16,461.41 L441.70,460.80 L444.21,460.22 L446.72,459.68 L449.23,459.16 L451.75,458.68 L454.29,458.22 L456.86,457.79 L459.48,457.38 L462.14,456.99 L464.86,456.63 L467.63,456.28 L470.48,455.95 L473.39,455.64 L476.36,455.35 L479.40,455.07 L482.49,454.81 L485.62,454.57 L488.77,454.34 L491.93,454.12 L495.07,453.92 L498.16,453.74 L501.17,453.57 L504.07,453.42 L506.81,453.29 L509.38,453.17 L511.73,453.07 L513.84,452.98 L515.69,452.91 L517.26,452.85 L518.56,452.81 L519.59,452.77 L520.36,452.75 L520.90,452.73 L521.24,452.72 L521.42,452.72 L521.49,452.72 L521.50,452.72 L521.50,460.92 L521.49,460.92 L521.42,460.92 L521.24,460.93 L520.90,460.94 L520.36,460.95 L519.59,460.98 L518.56,461.01 L517.26,461.06 L515.69,461.12 L513.84,461.19 L511.73,461.28 L509.38,461.38 L506.81,461.50 L504.07,461.63 L501.17,461.78 L498.16,461.95 L495.07,462.13 L491.93,462.33 L488.77,462.54 L485.62,462.77 L482.49,463.02 L479.40,463.28 L476.36,463.56 L473.39,463.85 L470.48,464.16 L467.63,464.49 L464.86,464.83 L462.14,465.20 L459.48,465.59 L456.86,465.99 L454.29,466.43 L451.75,466.88 L449.23,467.37 L446.72,467.88 L444.21,468.43 L441.70,469.01 L439.16,469.62 L436.60,470.27 L434.01,470.95 L431.38,471.67 L428.70,472.43 L425.97,473.22 L423.19,474.06 L420.35,474.93 L417.45,475.83 L414.48,476.78 L411.44,477.76 L408.35,478.78 L405.18,479.84 L401.95,480.92 L398.66,482.05 L395.30,483.20 L391.90,484.38 L388.44,485.59 L384.94,486.82 L381.40,488.07 L377.83,489.33 L374.23,490.60 L370.62,491.89 L367.00,493.18 L363.38,494.46 L359.77,495.75 L356.17,497.02 L352.60,498.29 L349.06,499.54 L345.56,500.76 L342.10,501.97 L338.70,503.15 L335.34,504.30 L332.05,505.43 L328.82,506.52 L325.65,507.57 L322.56,508.59 L319.52,509.57 L316.55,510.52 L313.65,511.43 L310.81,512.30 L308.03,513.13 L305.30,513.92 L302.62,514.68 L299.99,515.40 L297.40,516.08 L294.84,516.73 L292.30,517.34 L289.79,517.92 L287.28,518.47 L284.77,518.98 L282.25,519.47 L279.71,519.93 L277.14,520.36 L274.52,520.77 L271.86,521.15 L269.14,521.52 L266.37,521.86 L263.52,522.19 L260.61,522.50 L257.64,522.79 L254.60,523.07 L251.51,523.33 L248.38,523.58 L245.23,523.81 L242.07,524.02 L238.93,524.22 L235.84,524.40 L232.83,524.57 L229.93,524.72 L227.19,524.86 L224.62,524.97 L222.27,525.08 L220.16,525.16 L218.31,525.24 L216.74,525.29 L215.44,525.34 L214.41,525.37 L213.64,525.40 L213.10,525.41 L212.76,525.42 L212.58,525.43 L212.51,525.43 L212.50,525.43 Z" fill="#239F9F" fill-opacity="0.74" stroke="#fff" stroke-width="0.45"/><path d="M212.50,525.43 L212.51,525.43 L212.58,525.43 L212.76,525.43 L213.10,525.42 L213.64,525.41 L214.41,525.40 L215.44,525.38 L216.74,525.36 L218.31,525.33 L220.16,525.29 L222.27,525.25 L224.62,525.19 L227.19,525.13 L229.93,525.06 L232.83,524.99 L235.84,524.90 L238.93,524.81 L242.07,524.70 L245.23,524.59 L248.38,524.47 L251.51,524.35 L254.60,524.21 L257.64,524.07 L260.61,523.92 L263.52,523.76 L266.37,523.59 L269.14,523.41 L271.86,523.22 L274.52,523.02 L277.14,522.81 L279.71,522.59 L282.25,522.35 L284.77,522.10 L287.28,521.84 L289.79,521.56 L292.30,521.26 L294.84,520.94 L297.40,520.61 L299.99,520.26 L302.62,519.88 L305.30,519.49 L308.03,519.08 L310.81,518.65 L313.65,518.21 L316.55,517.74 L319.52,517.25 L322.56,516.74 L325.65,516.22 L328.82,515.67 L332.05,515.11 L335.34,514.53 L338.70,513.94 L342.10,513.33 L345.56,512.71 L349.06,512.07 L352.60,511.43 L356.17,510.78 L359.77,510.12 L363.38,509.46 L367.00,508.79 L370.62,508.13 L374.23,507.47 L377.83,506.81 L381.40,506.16 L384.94,505.51 L388.44,504.88 L391.90,504.26 L395.30,503.65 L398.66,503.05 L401.95,502.47 L405.18,501.91 L408.35,501.37 L411.44,500.84 L414.48,500.33 L417.45,499.85 L420.35,499.38 L423.19,498.93 L425.97,498.50 L428.70,498.09 L431.38,497.70 L434.01,497.33 L436.60,496.98 L439.16,496.64 L441.70,496.33 L444.21,496.03 L446.72,495.75 L449.23,495.48 L451.75,495.23 L454.29,494.99 L456.86,494.77 L459.48,494.56 L462.14,494.36 L464.86,494.17 L467.63,493.99 L470.48,493.83 L473.39,493.67 L476.36,493.51 L479.40,493.37 L482.49,493.24 L485.62,493.11 L488.77,492.99 L491.93,492.88 L495.07,492.78 L498.16,492.68 L501.17,492.60 L504.07,492.52 L506.81,492.45 L509.38,492.39 L511.73,492.34 L513.84,492.29 L515.69,492.25 L517.26,492.22 L518.56,492.20 L519.59,492.18 L520.36,492.17 L520.90,492.16 L521.24,492.16 L521.42,492.16 L521.49,492.15 L521.50,492.15 L521.50,498.11 L521.49,498.11 L521.42,498.11 L521.24,498.12 L520.90,498.12 L520.36,498.13 L519.59,498.14 L518.56,498.16 L517.26,498.18 L515.69,498.21 L513.84,498.25 L511.73,498.29 L509.38,498.35 L506.81,498.41 L504.07,498.48 L501.17,498.55 L498.16,498.64 L495.07,498.74 L491.93,498.84 L488.77,498.95 L485.62,499.07 L482.49,499.19 L479.40,499.33 L476.36,499.47 L473.39,499.62 L470.48,499.78 L467.63,499.95 L464.86,500.13 L462.14,500.32 L459.48,500.52 L456.86,500.73 L454.29,500.95 L451.75,501.19 L449.23,501.44 L446.72,501.70 L444.21,501.98 L441.70,502.28 L439.16,502.60 L436.60,502.93 L434.01,503.29 L431.38,503.66 L428.70,504.05 L425.97,504.46 L423.19,504.89 L420.35,505.33 L417.45,505.80 L414.48,506.29 L411.44,506.80 L408.35,507.32 L405.18,507.87 L401.95,508.43 L398.66,509.01 L395.30,509.60 L391.90,510.21 L388.44,510.83 L384.94,511.47 L381.40,512.11 L377.83,512.76 L374.23,513.42 L370.62,514.08 L367.00,514.75 L363.38,515.41 L359.77,516.08 L356.17,516.73 L352.60,517.39 L349.06,518.03 L345.56,518.66 L342.10,519.29 L338.70,519.90 L335.34,520.49 L332.05,521.07 L328.82,521.63 L325.65,522.18 L322.56,522.70 L319.52,523.21 L316.55,523.70 L313.65,524.16 L310.81,524.61 L308.03,525.04 L305.30,525.45 L302.62,525.84 L299.99,526.21 L297.40,526.57 L294.84,526.90 L292.30,527.22 L289.79,527.51 L287.28,527.80 L284.77,528.06 L282.25,528.31 L279.71,528.55 L277.14,528.77 L274.52,528.98 L271.86,529.18 L269.14,529.37 L266.37,529.55 L263.52,529.72 L260.61,529.88 L257.64,530.03 L254.60,530.17 L251.51,530.30 L248.38,530.43 L245.23,530.55 L242.07,530.66 L238.93,530.76 L235.84,530.86 L232.83,530.94 L229.93,531.02 L227.19,531.09 L224.62,531.15 L222.27,531.20 L220.16,531.25 L218.31,531.29 L216.74,531.32 L215.44,531.34 L214.41,531.36 L213.64,531.37 L213.10,531.38 L212.76,531.38 L212.58,531.39 L212.51,531.39 L212.50,531.39 Z" fill="#239F9F" fill-opacity="0.74" stroke="#fff" stroke-width="0.45"/><path d="M212.50,531.39 L212.51,531.39 L212.58,531.39 L212.76,531.39 L213.10,531.39 L213.64,531.39 L214.41,531.39 L215.44,531.39 L216.74,531.39 L218.31,531.39 L220.16,531.39 L222.27,531.39 L224.62,531.39 L227.19,531.39 L229.93,531.39 L232.83,531.39 L235.84,531.39 L238.93,531.39 L242.07,531.39 L245.23,531.39 L248.38,531.39 L251.51,531.39 L254.60,531.39 L257.64,531.39 L260.61,531.39 L263.52,531.39 L266.37,531.39 L269.14,531.39 L271.86,531.39 L274.52,531.39 L277.14,531.39 L279.71,531.39 L282.25,531.39 L284.77,531.39 L287.28,531.39 L289.79,531.39 L292.30,531.39 L294.84,531.39 L297.40,531.39 L299.99,531.39 L302.62,531.39 L305.30,531.39 L308.03,531.39 L310.81,531.39 L313.65,531.39 L316.55,531.39 L319.52,531.39 L322.56,531.39 L325.65,531.39 L328.82,531.39 L332.05,531.39 L335.34,531.39 L338.70,531.39 L342.10,531.39 L345.56,531.39 L349.06,531.39 L352.60,531.39 L356.17,531.39 L359.77,531.39 L363.38,531.39 L367.00,531.39 L370.62,531.39 L374.23,531.39 L377.83,531.39 L381.40,531.39 L384.94,531.39 L388.44,531.39 L391.90,531.39 L395.30,531.39 L398.66,531.39 L401.95,531.39 L405.18,531.39 L408.35,531.39 L411.44,531.39 L414.48,531.39 L417.45,531.39 L420.35,531.39 L423.19,531.39 L425.97,531.39 L428.70,531.39 L431.38,531.39 L434.01,531.39 L436.60,531.39 L439.16,531.39 L441.70,531.39 L444.21,531.39 L446.72,531.39 L449.23,531.39 L451.75,531.39 L454.29,531.39 L456.86,531.39 L459.48,531.39 L462.14,531.39 L464.86,531.39 L467.63,531.39 L470.48,531.39 L473.39,531.39 L476.36,531.39 L479.40,531.39 L482.49,531.39 L485.62,531.39 L488.77,531.39 L491.93,531.39 L495.07,531.39 L498.16,531.39 L501.17,531.39 L504.07,531.39 L506.81,531.39 L509.38,531.39 L511.73,531.39 L513.84,531.39 L515.69,531.39 L517.26,531.39 L518.56,531.39 L519.59,531.39 L520.36,531.39 L520.90,531.39 L521.24,531.39 L521.42,531.39 L521.49,531.39 L521.50,531.39 L521.50,532.90 L521.49,532.90 L521.42,532.90 L521.24,532.90 L520.90,532.90 L520.36,532.90 L519.59,532.90 L518.56,532.90 L517.26,532.90 L515.69,532.90 L513.84,532.90 L511.73,532.90 L509.38,532.90 L506.81,532.90 L504.07,532.90 L501.17,532.90 L498.16,532.90 L495.07,532.90 L491.93,532.90 L488.77,532.90 L485.62,532.90 L482.49,532.90 L479.40,532.90 L476.36,532.90 L473.39,532.90 L470.48,532.90 L467.63,532.90 L464.86,532.90 L462.14,532.90 L459.48,532.90 L456.86,532.90 L454.29,532.90 L451.75,532.90 L449.23,532.90 L446.72,532.90 L444.21,532.90 L441.70,532.90 L439.16,532.90 L436.60,532.90 L434.01,532.90 L431.38,532.90 L428.70,532.90 L425.97,532.90 L423.19,532.90 L420.35,532.90 L417.45,532.90 L414.48,532.90 L411.44,532.90 L408.35,532.90 L405.18,532.90 L401.95,532.90 L398.66,532.90 L395.30,532.90 L391.90,532.90 L388.44,532.90 L384.94,532.90 L381.40,532.90 L377.83,532.90 L374.23,532.90 L370.62,532.90 L367.00,532.90 L363.38,532.90 L359.77,532.90 L356.17,532.90 L352.60,532.90 L349.06,532.90 L345.56,532.90 L342.10,532.90 L338.70,532.90 L335.34,532.90 L332.05,532.90 L328.82,532.90 L325.65,532.90 L322.56,532.90 L319.52,532.90 L316.55,532.90 L313.65,532.90 L310.81,532.90 L308.03,532.90 L305.30,532.90 L302.62,532.90 L299.99,532.90 L297.40,532.90 L294.84,532.90 L292.30,532.90 L289.79,532.90 L287.28,532.90 L284.77,532.90 L282.25,532.90 L279.71,532.90 L277.14,532.90 L274.52,532.90 L271.86,532.90 L269.14,532.90 L266.37,532.90 L263.52,532.90 L260.61,532.90 L257.64,532.90 L254.60,532.90 L251.51,532.90 L248.38,532.90 L245.23,532.90 L242.07,532.90 L238.93,532.90 L235.84,532.90 L232.83,532.90 L229.93,532.90 L227.19,532.90 L224.62,532.90 L222.27,532.90 L220.16,532.90 L218.31,532.90 L216.74,532.90 L215.44,532.90 L214.41,532.90 L213.64,532.90 L213.10,532.90 L212.76,532.90 L212.58,532.90 L212.51,532.90 L212.50,532.90 Z" fill="#239F9F" fill-opacity="0.74" stroke="#fff" stroke-width="0.45"/>
<rect x="168.5" y="28.5" width="44.0" height="504.0" fill="#893968" stroke="#111" stroke-width="0.9"/><line x1="168.5" x2="212.5" y1="429.5" y2="429.5" stroke="#111" stroke-width="0.9"/><line x1="168.5" x2="212.5" y1="487.3" y2="487.3" stroke="#111" stroke-width="0.9"/><rect x="521.5" y="28.5" width="44.0" height="504.0" fill="#893968" stroke="#111" stroke-width="0.9"/><line x1="521.5" x2="565.5" y1="387.5" y2="387.5" stroke="#111" stroke-width="0.9"/><line x1="521.5" x2="565.5" y1="461.1" y2="461.1" stroke="#111" stroke-width="0.9"/><line x1="521.5" x2="565.5" y1="498.5" y2="498.5" stroke="#111" stroke-width="0.9"/>
<rect x="86.00" y="220.00" width="209.43" height="17.53" rx="2" fill="#fff" stroke="#000" stroke-opacity="0.45" stroke-width="1"/><rect x="86.57" y="449.40" width="207.83" height="17.70" rx="2" fill="#fff" stroke="#000" stroke-opacity="0.45" stroke-width="1"/><rect x="69.40" y="501.40" width="242.03" height="17.26" rx="2" fill="#fff" stroke="#000" stroke-opacity="0.45" stroke-width="1"/><rect x="467.26" y="198.67" width="152.24" height="17.73" rx="2" fill="#fff" stroke="#000" stroke-opacity="0.45" stroke-width="1"/><rect x="441.55" y="415.40" width="203.45" height="17.70" rx="2" fill="#fff" stroke="#000" stroke-opacity="0.45" stroke-width="1"/><rect x="422.42" y="470.96" width="241.98" height="17.43" rx="2" fill="#fff" stroke="#000" stroke-opacity="0.45" stroke-width="1"/><rect x="442.55" y="506.82" width="201.85" height="17.42" rx="2" fill="#fff" stroke="#000" stroke-opacity="0.45" stroke-width="1"/>
</svg>
<div id="L">
<div class="tick" style="top:527.60px">0%</div><div class="tick" style="top:401.50px">25%</div><div class="tick" style="top:275.40px">50%</div><div class="tick" style="top:149.30px">75%</div><div class="tick" style="top:23.20px">100%</div>
<div class="leg" style="left:96px;background:#EB7016;opacity:0.8"></div><div class="legb" style="left:96px;background:#EB7016;opacity:0.32"></div>
<div class="legt" style="left:112.6px">Disordered Eating Behaviours</div>
<div class="leg" style="left:267.2px;background:#C81E12;opacity:0.8"></div><div class="legb" style="left:267.2px;background:#C81E12;opacity:0.32"></div>
<div class="legt" style="left:283.4px">Subthreshold Eating Disorder</div>
<div class="leg" style="left:436.7px;background:#239F9F;opacity:0.74"></div><div class="legb" style="left:436.7px;background:#239F9F;opacity:0.3"></div>
<div class="legt" style="left:453px">Diagnosed/Threshold Eating Disorder</div>
<div class="xl" style="left:192.1px">Eating Disorder by DNBC-11</div>
<div class="xl" style="left:548.4px">Eating Disorder by DNBC-18</div>
<div class="yt">Percentage of participants</div>
<div class="lab" style="left:190.72px;top:228.76px">Disordered Eating <span style="letter-spacing:.12px;margin-right:-1.2px">Behaviours</span> (79.47%)</div><div class="lab" style="left:190.48px;top:458.25px"><span style="letter-spacing:.11px;margin-right:-1.3px">Subthreshold</span> Eating Disorder (11.42%)</div><div class="lab" style="left:190.42px;top:510.03px"><span style="position:relative;top:-1px"><span style="letter-spacing:.16px;margin-right:-2.9px">Diagnosed/Threshold</span> Eating Disorder (9.11%)</span></div><div class="lab" style="left:543.38px;top:207.53px">No Eating Disorder (71.12%)</div><div class="lab" style="left:543.27px;top:424.25px"><span style="position:relative;top:-1px">Disordered Eating <span style="letter-spacing:.12px;margin-right:-1.2px">Behaviours</span> (14.6%)</span></div><div class="lab" style="left:543.41px;top:479.67px"><span style="letter-spacing:.16px;margin-right:-2.9px">Diagnosed/Threshold</span> Eating Disorder (7.44%)</div><div class="lab" style="left:543.48px;top:515.53px"><span style="letter-spacing:.11px;margin-right:-1.3px">Subthreshold</span> Eating Disorder (6.84%)</div>
</div>
</body></html>
